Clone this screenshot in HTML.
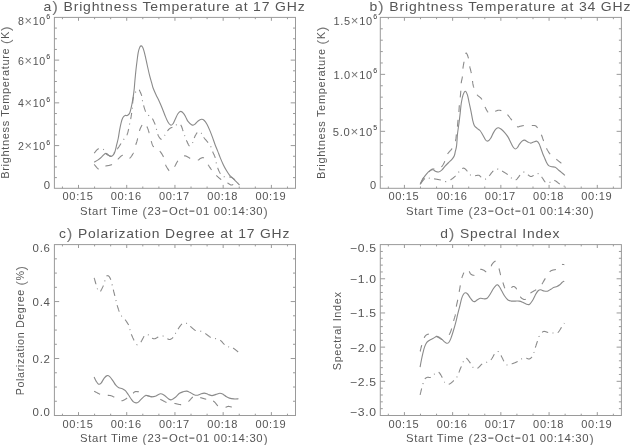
<!DOCTYPE html>
<html><head><meta charset="utf-8"><style>
html,body{margin:0;padding:0;background:#fff;}
svg{display:block;}
text{font-family:'Liberation Sans', sans-serif;fill:#555;letter-spacing:0.06em;}
tspan.x{fill:#7a7a7a;font-size:1.2em;}
text.sup{fill:#333;}
tspan.h{font-size:1.8em;baseline-shift:-0.11em;fill:#888;}
tspan.p{font-size:1.22em;baseline-shift:-0.06em;fill:#777;}
</style></head><body>
<svg width="630" height="445" viewBox="0 0 630 445">
<g stroke="#9a9a9a" stroke-width="1.0" fill="none">
<rect x="54.4" y="17.4" width="241.10" height="170.90" fill="none"/>
<line x1="62.44" y1="188.30" x2="62.44" y2="186.50"/>
<line x1="62.44" y1="17.40" x2="62.44" y2="19.20"/>
<line x1="78.51" y1="188.30" x2="78.51" y2="184.90"/>
<line x1="78.51" y1="17.40" x2="78.51" y2="20.80"/>
<line x1="94.58" y1="188.30" x2="94.58" y2="186.50"/>
<line x1="94.58" y1="17.40" x2="94.58" y2="19.20"/>
<line x1="110.66" y1="188.30" x2="110.66" y2="186.50"/>
<line x1="110.66" y1="17.40" x2="110.66" y2="19.20"/>
<line x1="126.73" y1="188.30" x2="126.73" y2="184.90"/>
<line x1="126.73" y1="17.40" x2="126.73" y2="20.80"/>
<line x1="142.80" y1="188.30" x2="142.80" y2="186.50"/>
<line x1="142.80" y1="17.40" x2="142.80" y2="19.20"/>
<line x1="158.88" y1="188.30" x2="158.88" y2="186.50"/>
<line x1="158.88" y1="17.40" x2="158.88" y2="19.20"/>
<line x1="174.95" y1="188.30" x2="174.95" y2="184.90"/>
<line x1="174.95" y1="17.40" x2="174.95" y2="20.80"/>
<line x1="191.02" y1="188.30" x2="191.02" y2="186.50"/>
<line x1="191.02" y1="17.40" x2="191.02" y2="19.20"/>
<line x1="207.10" y1="188.30" x2="207.10" y2="186.50"/>
<line x1="207.10" y1="17.40" x2="207.10" y2="19.20"/>
<line x1="223.17" y1="188.30" x2="223.17" y2="184.90"/>
<line x1="223.17" y1="17.40" x2="223.17" y2="20.80"/>
<line x1="239.24" y1="188.30" x2="239.24" y2="186.50"/>
<line x1="239.24" y1="17.40" x2="239.24" y2="19.20"/>
<line x1="255.32" y1="188.30" x2="255.32" y2="186.50"/>
<line x1="255.32" y1="17.40" x2="255.32" y2="19.20"/>
<line x1="271.39" y1="188.30" x2="271.39" y2="184.90"/>
<line x1="271.39" y1="17.40" x2="271.39" y2="20.80"/>
<line x1="287.46" y1="188.30" x2="287.46" y2="186.50"/>
<line x1="287.46" y1="17.40" x2="287.46" y2="19.20"/>
<line x1="54.40" y1="177.62" x2="56.90" y2="177.62"/>
<line x1="295.50" y1="177.62" x2="293.00" y2="177.62"/>
<line x1="54.40" y1="166.94" x2="56.90" y2="166.94"/>
<line x1="295.50" y1="166.94" x2="293.00" y2="166.94"/>
<line x1="54.40" y1="156.26" x2="56.90" y2="156.26"/>
<line x1="295.50" y1="156.26" x2="293.00" y2="156.26"/>
<line x1="54.40" y1="145.58" x2="59.20" y2="145.58"/>
<line x1="295.50" y1="145.58" x2="290.70" y2="145.58"/>
<line x1="54.40" y1="134.89" x2="56.90" y2="134.89"/>
<line x1="295.50" y1="134.89" x2="293.00" y2="134.89"/>
<line x1="54.40" y1="124.21" x2="56.90" y2="124.21"/>
<line x1="295.50" y1="124.21" x2="293.00" y2="124.21"/>
<line x1="54.40" y1="113.53" x2="56.90" y2="113.53"/>
<line x1="295.50" y1="113.53" x2="293.00" y2="113.53"/>
<line x1="54.40" y1="102.85" x2="59.20" y2="102.85"/>
<line x1="295.50" y1="102.85" x2="290.70" y2="102.85"/>
<line x1="54.40" y1="92.17" x2="56.90" y2="92.17"/>
<line x1="295.50" y1="92.17" x2="293.00" y2="92.17"/>
<line x1="54.40" y1="81.49" x2="56.90" y2="81.49"/>
<line x1="295.50" y1="81.49" x2="293.00" y2="81.49"/>
<line x1="54.40" y1="70.81" x2="56.90" y2="70.81"/>
<line x1="295.50" y1="70.81" x2="293.00" y2="70.81"/>
<line x1="54.40" y1="60.12" x2="59.20" y2="60.12"/>
<line x1="295.50" y1="60.12" x2="290.70" y2="60.12"/>
<line x1="54.40" y1="49.44" x2="56.90" y2="49.44"/>
<line x1="295.50" y1="49.44" x2="293.00" y2="49.44"/>
<line x1="54.40" y1="38.76" x2="56.90" y2="38.76"/>
<line x1="295.50" y1="38.76" x2="293.00" y2="38.76"/>
<line x1="54.40" y1="28.08" x2="56.90" y2="28.08"/>
<line x1="295.50" y1="28.08" x2="293.00" y2="28.08"/>
<rect x="380.3" y="17.4" width="241.10" height="170.90" fill="none"/>
<line x1="388.34" y1="188.30" x2="388.34" y2="186.50"/>
<line x1="388.34" y1="17.40" x2="388.34" y2="19.20"/>
<line x1="404.41" y1="188.30" x2="404.41" y2="184.90"/>
<line x1="404.41" y1="17.40" x2="404.41" y2="20.80"/>
<line x1="420.48" y1="188.30" x2="420.48" y2="186.50"/>
<line x1="420.48" y1="17.40" x2="420.48" y2="19.20"/>
<line x1="436.56" y1="188.30" x2="436.56" y2="186.50"/>
<line x1="436.56" y1="17.40" x2="436.56" y2="19.20"/>
<line x1="452.63" y1="188.30" x2="452.63" y2="184.90"/>
<line x1="452.63" y1="17.40" x2="452.63" y2="20.80"/>
<line x1="468.70" y1="188.30" x2="468.70" y2="186.50"/>
<line x1="468.70" y1="17.40" x2="468.70" y2="19.20"/>
<line x1="484.78" y1="188.30" x2="484.78" y2="186.50"/>
<line x1="484.78" y1="17.40" x2="484.78" y2="19.20"/>
<line x1="500.85" y1="188.30" x2="500.85" y2="184.90"/>
<line x1="500.85" y1="17.40" x2="500.85" y2="20.80"/>
<line x1="516.92" y1="188.30" x2="516.92" y2="186.50"/>
<line x1="516.92" y1="17.40" x2="516.92" y2="19.20"/>
<line x1="533.00" y1="188.30" x2="533.00" y2="186.50"/>
<line x1="533.00" y1="17.40" x2="533.00" y2="19.20"/>
<line x1="549.07" y1="188.30" x2="549.07" y2="184.90"/>
<line x1="549.07" y1="17.40" x2="549.07" y2="20.80"/>
<line x1="565.14" y1="188.30" x2="565.14" y2="186.50"/>
<line x1="565.14" y1="17.40" x2="565.14" y2="19.20"/>
<line x1="581.22" y1="188.30" x2="581.22" y2="186.50"/>
<line x1="581.22" y1="17.40" x2="581.22" y2="19.20"/>
<line x1="597.29" y1="188.30" x2="597.29" y2="184.90"/>
<line x1="597.29" y1="17.40" x2="597.29" y2="20.80"/>
<line x1="613.36" y1="188.30" x2="613.36" y2="186.50"/>
<line x1="613.36" y1="17.40" x2="613.36" y2="19.20"/>
<line x1="380.30" y1="176.91" x2="382.80" y2="176.91"/>
<line x1="621.40" y1="176.91" x2="618.90" y2="176.91"/>
<line x1="380.30" y1="165.51" x2="382.80" y2="165.51"/>
<line x1="621.40" y1="165.51" x2="618.90" y2="165.51"/>
<line x1="380.30" y1="154.12" x2="382.80" y2="154.12"/>
<line x1="621.40" y1="154.12" x2="618.90" y2="154.12"/>
<line x1="380.30" y1="142.73" x2="382.80" y2="142.73"/>
<line x1="621.40" y1="142.73" x2="618.90" y2="142.73"/>
<line x1="380.30" y1="131.33" x2="385.10" y2="131.33"/>
<line x1="621.40" y1="131.33" x2="616.60" y2="131.33"/>
<line x1="380.30" y1="119.94" x2="382.80" y2="119.94"/>
<line x1="621.40" y1="119.94" x2="618.90" y2="119.94"/>
<line x1="380.30" y1="108.55" x2="382.80" y2="108.55"/>
<line x1="621.40" y1="108.55" x2="618.90" y2="108.55"/>
<line x1="380.30" y1="97.15" x2="382.80" y2="97.15"/>
<line x1="621.40" y1="97.15" x2="618.90" y2="97.15"/>
<line x1="380.30" y1="85.76" x2="382.80" y2="85.76"/>
<line x1="621.40" y1="85.76" x2="618.90" y2="85.76"/>
<line x1="380.30" y1="74.37" x2="385.10" y2="74.37"/>
<line x1="621.40" y1="74.37" x2="616.60" y2="74.37"/>
<line x1="380.30" y1="62.97" x2="382.80" y2="62.97"/>
<line x1="621.40" y1="62.97" x2="618.90" y2="62.97"/>
<line x1="380.30" y1="51.58" x2="382.80" y2="51.58"/>
<line x1="621.40" y1="51.58" x2="618.90" y2="51.58"/>
<line x1="380.30" y1="40.19" x2="382.80" y2="40.19"/>
<line x1="621.40" y1="40.19" x2="618.90" y2="40.19"/>
<line x1="380.30" y1="28.79" x2="382.80" y2="28.79"/>
<line x1="621.40" y1="28.79" x2="618.90" y2="28.79"/>
<rect x="54.4" y="244.6" width="241.10" height="170.90" fill="none"/>
<line x1="62.44" y1="415.50" x2="62.44" y2="413.70"/>
<line x1="62.44" y1="244.60" x2="62.44" y2="246.40"/>
<line x1="78.51" y1="415.50" x2="78.51" y2="412.10"/>
<line x1="78.51" y1="244.60" x2="78.51" y2="248.00"/>
<line x1="94.58" y1="415.50" x2="94.58" y2="413.70"/>
<line x1="94.58" y1="244.60" x2="94.58" y2="246.40"/>
<line x1="110.66" y1="415.50" x2="110.66" y2="413.70"/>
<line x1="110.66" y1="244.60" x2="110.66" y2="246.40"/>
<line x1="126.73" y1="415.50" x2="126.73" y2="412.10"/>
<line x1="126.73" y1="244.60" x2="126.73" y2="248.00"/>
<line x1="142.80" y1="415.50" x2="142.80" y2="413.70"/>
<line x1="142.80" y1="244.60" x2="142.80" y2="246.40"/>
<line x1="158.88" y1="415.50" x2="158.88" y2="413.70"/>
<line x1="158.88" y1="244.60" x2="158.88" y2="246.40"/>
<line x1="174.95" y1="415.50" x2="174.95" y2="412.10"/>
<line x1="174.95" y1="244.60" x2="174.95" y2="248.00"/>
<line x1="191.02" y1="415.50" x2="191.02" y2="413.70"/>
<line x1="191.02" y1="244.60" x2="191.02" y2="246.40"/>
<line x1="207.10" y1="415.50" x2="207.10" y2="413.70"/>
<line x1="207.10" y1="244.60" x2="207.10" y2="246.40"/>
<line x1="223.17" y1="415.50" x2="223.17" y2="412.10"/>
<line x1="223.17" y1="244.60" x2="223.17" y2="248.00"/>
<line x1="239.24" y1="415.50" x2="239.24" y2="413.70"/>
<line x1="239.24" y1="244.60" x2="239.24" y2="246.40"/>
<line x1="255.32" y1="415.50" x2="255.32" y2="413.70"/>
<line x1="255.32" y1="244.60" x2="255.32" y2="246.40"/>
<line x1="271.39" y1="415.50" x2="271.39" y2="412.10"/>
<line x1="271.39" y1="244.60" x2="271.39" y2="248.00"/>
<line x1="287.46" y1="415.50" x2="287.46" y2="413.70"/>
<line x1="287.46" y1="244.60" x2="287.46" y2="246.40"/>
<line x1="54.40" y1="401.26" x2="56.90" y2="401.26"/>
<line x1="295.50" y1="401.26" x2="293.00" y2="401.26"/>
<line x1="54.40" y1="387.02" x2="56.90" y2="387.02"/>
<line x1="295.50" y1="387.02" x2="293.00" y2="387.02"/>
<line x1="54.40" y1="372.77" x2="56.90" y2="372.77"/>
<line x1="295.50" y1="372.77" x2="293.00" y2="372.77"/>
<line x1="54.40" y1="358.53" x2="59.20" y2="358.53"/>
<line x1="295.50" y1="358.53" x2="290.70" y2="358.53"/>
<line x1="54.40" y1="344.29" x2="56.90" y2="344.29"/>
<line x1="295.50" y1="344.29" x2="293.00" y2="344.29"/>
<line x1="54.40" y1="330.05" x2="56.90" y2="330.05"/>
<line x1="295.50" y1="330.05" x2="293.00" y2="330.05"/>
<line x1="54.40" y1="315.81" x2="56.90" y2="315.81"/>
<line x1="295.50" y1="315.81" x2="293.00" y2="315.81"/>
<line x1="54.40" y1="301.57" x2="59.20" y2="301.57"/>
<line x1="295.50" y1="301.57" x2="290.70" y2="301.57"/>
<line x1="54.40" y1="287.32" x2="56.90" y2="287.32"/>
<line x1="295.50" y1="287.32" x2="293.00" y2="287.32"/>
<line x1="54.40" y1="273.08" x2="56.90" y2="273.08"/>
<line x1="295.50" y1="273.08" x2="293.00" y2="273.08"/>
<line x1="54.40" y1="258.84" x2="56.90" y2="258.84"/>
<line x1="295.50" y1="258.84" x2="293.00" y2="258.84"/>
<rect x="380.3" y="244.6" width="241.10" height="170.90" fill="none"/>
<line x1="388.34" y1="415.50" x2="388.34" y2="413.70"/>
<line x1="388.34" y1="244.60" x2="388.34" y2="246.40"/>
<line x1="404.41" y1="415.50" x2="404.41" y2="412.10"/>
<line x1="404.41" y1="244.60" x2="404.41" y2="248.00"/>
<line x1="420.48" y1="415.50" x2="420.48" y2="413.70"/>
<line x1="420.48" y1="244.60" x2="420.48" y2="246.40"/>
<line x1="436.56" y1="415.50" x2="436.56" y2="413.70"/>
<line x1="436.56" y1="244.60" x2="436.56" y2="246.40"/>
<line x1="452.63" y1="415.50" x2="452.63" y2="412.10"/>
<line x1="452.63" y1="244.60" x2="452.63" y2="248.00"/>
<line x1="468.70" y1="415.50" x2="468.70" y2="413.70"/>
<line x1="468.70" y1="244.60" x2="468.70" y2="246.40"/>
<line x1="484.78" y1="415.50" x2="484.78" y2="413.70"/>
<line x1="484.78" y1="244.60" x2="484.78" y2="246.40"/>
<line x1="500.85" y1="415.50" x2="500.85" y2="412.10"/>
<line x1="500.85" y1="244.60" x2="500.85" y2="248.00"/>
<line x1="516.92" y1="415.50" x2="516.92" y2="413.70"/>
<line x1="516.92" y1="244.60" x2="516.92" y2="246.40"/>
<line x1="533.00" y1="415.50" x2="533.00" y2="413.70"/>
<line x1="533.00" y1="244.60" x2="533.00" y2="246.40"/>
<line x1="549.07" y1="415.50" x2="549.07" y2="412.10"/>
<line x1="549.07" y1="244.60" x2="549.07" y2="248.00"/>
<line x1="565.14" y1="415.50" x2="565.14" y2="413.70"/>
<line x1="565.14" y1="244.60" x2="565.14" y2="246.40"/>
<line x1="581.22" y1="415.50" x2="581.22" y2="413.70"/>
<line x1="581.22" y1="244.60" x2="581.22" y2="246.40"/>
<line x1="597.29" y1="415.50" x2="597.29" y2="412.10"/>
<line x1="597.29" y1="244.60" x2="597.29" y2="248.00"/>
<line x1="613.36" y1="415.50" x2="613.36" y2="413.70"/>
<line x1="613.36" y1="244.60" x2="613.36" y2="246.40"/>
<line x1="380.30" y1="408.66" x2="382.80" y2="408.66"/>
<line x1="621.40" y1="408.66" x2="618.90" y2="408.66"/>
<line x1="380.30" y1="401.83" x2="382.80" y2="401.83"/>
<line x1="621.40" y1="401.83" x2="618.90" y2="401.83"/>
<line x1="380.30" y1="394.99" x2="382.80" y2="394.99"/>
<line x1="621.40" y1="394.99" x2="618.90" y2="394.99"/>
<line x1="380.30" y1="388.16" x2="382.80" y2="388.16"/>
<line x1="621.40" y1="388.16" x2="618.90" y2="388.16"/>
<line x1="380.30" y1="381.32" x2="385.10" y2="381.32"/>
<line x1="621.40" y1="381.32" x2="616.60" y2="381.32"/>
<line x1="380.30" y1="374.48" x2="382.80" y2="374.48"/>
<line x1="621.40" y1="374.48" x2="618.90" y2="374.48"/>
<line x1="380.30" y1="367.65" x2="382.80" y2="367.65"/>
<line x1="621.40" y1="367.65" x2="618.90" y2="367.65"/>
<line x1="380.30" y1="360.81" x2="382.80" y2="360.81"/>
<line x1="621.40" y1="360.81" x2="618.90" y2="360.81"/>
<line x1="380.30" y1="353.98" x2="382.80" y2="353.98"/>
<line x1="621.40" y1="353.98" x2="618.90" y2="353.98"/>
<line x1="380.30" y1="347.14" x2="385.10" y2="347.14"/>
<line x1="621.40" y1="347.14" x2="616.60" y2="347.14"/>
<line x1="380.30" y1="340.30" x2="382.80" y2="340.30"/>
<line x1="621.40" y1="340.30" x2="618.90" y2="340.30"/>
<line x1="380.30" y1="333.47" x2="382.80" y2="333.47"/>
<line x1="621.40" y1="333.47" x2="618.90" y2="333.47"/>
<line x1="380.30" y1="326.63" x2="382.80" y2="326.63"/>
<line x1="621.40" y1="326.63" x2="618.90" y2="326.63"/>
<line x1="380.30" y1="319.80" x2="382.80" y2="319.80"/>
<line x1="621.40" y1="319.80" x2="618.90" y2="319.80"/>
<line x1="380.30" y1="312.96" x2="385.10" y2="312.96"/>
<line x1="621.40" y1="312.96" x2="616.60" y2="312.96"/>
<line x1="380.30" y1="306.12" x2="382.80" y2="306.12"/>
<line x1="621.40" y1="306.12" x2="618.90" y2="306.12"/>
<line x1="380.30" y1="299.29" x2="382.80" y2="299.29"/>
<line x1="621.40" y1="299.29" x2="618.90" y2="299.29"/>
<line x1="380.30" y1="292.45" x2="382.80" y2="292.45"/>
<line x1="621.40" y1="292.45" x2="618.90" y2="292.45"/>
<line x1="380.30" y1="285.62" x2="382.80" y2="285.62"/>
<line x1="621.40" y1="285.62" x2="618.90" y2="285.62"/>
<line x1="380.30" y1="278.78" x2="385.10" y2="278.78"/>
<line x1="621.40" y1="278.78" x2="616.60" y2="278.78"/>
<line x1="380.30" y1="271.94" x2="382.80" y2="271.94"/>
<line x1="621.40" y1="271.94" x2="618.90" y2="271.94"/>
<line x1="380.30" y1="265.11" x2="382.80" y2="265.11"/>
<line x1="621.40" y1="265.11" x2="618.90" y2="265.11"/>
<line x1="380.30" y1="258.27" x2="382.80" y2="258.27"/>
<line x1="621.40" y1="258.27" x2="618.90" y2="258.27"/>
<line x1="380.30" y1="251.44" x2="382.80" y2="251.44"/>
<line x1="621.40" y1="251.44" x2="618.90" y2="251.44"/>
</g>
<g stroke="#8a8a8a" stroke-width="1.1" fill="none" stroke-linejoin="round">
<path d="M94.20,162.20 C94.85,161.82 96.88,160.75 98.10,159.90 C99.32,159.05 100.37,158.13 101.50,157.10 C102.63,156.07 104.07,154.30 104.90,153.70 C105.73,153.10 105.85,153.22 106.50,153.50 C107.15,153.78 108.05,154.90 108.80,155.40 C109.55,155.90 110.25,156.58 111.00,156.50 C111.75,156.42 112.63,155.73 113.30,154.90 C113.97,154.07 114.43,153.20 115.00,151.50 C115.57,149.80 116.15,146.95 116.70,144.70 C117.25,142.45 117.83,140.33 118.30,138.00 C118.77,135.67 119.03,133.23 119.50,130.70 C119.97,128.17 120.55,124.95 121.10,122.80 C121.65,120.65 122.13,119.02 122.80,117.80 C123.47,116.58 124.35,115.88 125.10,115.50 C125.85,115.12 126.55,115.87 127.30,115.50 C128.05,115.13 128.93,114.70 129.60,113.30 C130.27,111.90 130.83,109.07 131.30,107.10 C131.77,105.13 132.03,103.57 132.40,101.50 C132.77,99.43 133.18,96.95 133.50,94.70 C133.82,92.45 134.07,90.33 134.30,88.00 C134.53,85.67 134.62,83.78 134.90,80.70 C135.18,77.62 135.63,72.87 136.00,69.50 C136.37,66.13 136.73,63.32 137.10,60.50 C137.47,57.68 137.78,54.75 138.20,52.60 C138.62,50.45 139.13,48.72 139.60,47.60 C140.07,46.48 140.52,46.00 141.00,45.90 C141.48,45.80 142.03,46.25 142.50,47.00 C142.97,47.75 143.30,48.72 143.80,50.40 C144.30,52.08 144.93,54.67 145.50,57.10 C146.07,59.53 146.53,62.00 147.20,65.00 C147.87,68.00 148.75,72.12 149.50,75.10 C150.25,78.08 151.10,80.75 151.70,82.90 C152.30,85.05 152.38,86.03 153.10,88.00 C153.82,89.97 154.97,92.45 156.00,94.70 C157.03,96.95 158.27,99.25 159.30,101.50 C160.33,103.75 161.25,105.87 162.20,108.20 C163.15,110.53 164.07,113.25 165.00,115.50 C165.93,117.75 166.87,120.10 167.80,121.70 C168.73,123.30 169.77,124.72 170.60,125.10 C171.43,125.48 172.05,124.93 172.80,124.00 C173.55,123.07 174.25,121.20 175.10,119.50 C175.95,117.80 176.97,115.15 177.90,113.80 C178.83,112.45 179.77,111.48 180.70,111.40 C181.63,111.32 182.65,112.33 183.50,113.30 C184.35,114.27 185.05,115.85 185.80,117.20 C186.55,118.55 186.98,120.10 188.00,121.40 C189.02,122.70 190.78,124.50 191.90,125.00 C193.02,125.50 193.67,125.07 194.70,124.40 C195.73,123.73 196.97,121.85 198.10,121.00 C199.23,120.15 200.47,119.38 201.50,119.30 C202.53,119.22 203.37,119.65 204.30,120.50 C205.23,121.35 206.17,122.72 207.10,124.40 C208.03,126.08 208.97,128.35 209.90,130.60 C210.83,132.85 211.82,135.50 212.70,137.90 C213.58,140.30 214.37,142.80 215.20,145.00 C216.03,147.20 216.87,149.00 217.70,151.10 C218.53,153.20 219.27,155.33 220.20,157.60 C221.13,159.87 222.28,162.58 223.30,164.70 C224.32,166.82 225.30,168.62 226.30,170.30 C227.30,171.98 228.28,173.53 229.30,174.80 C230.32,176.07 231.38,176.88 232.40,177.90 C233.42,178.92 234.40,179.90 235.40,180.90 C236.40,181.90 237.72,183.22 238.40,183.90 C239.08,184.58 239.32,184.82 239.50,185.00"/>
<path d="M94.20,153.20 L94.26,153.12 L94.34,153.03 L94.42,152.92 L94.51,152.80 L94.61,152.67 L94.72,152.54 L94.83,152.39 L94.95,152.23 L95.07,152.07 L95.20,151.91 L95.33,151.74 L95.46,151.57 L95.60,151.40 L95.73,151.23 L95.87,151.06 L96.01,150.89 L96.14,150.73 L96.28,150.57 L96.41,150.42 L96.54,150.27 L96.66,150.14 L96.78,150.01 L96.89,149.90 L97.00,149.80 L97.10,149.71 L97.20,149.62 L97.29,149.54 L97.38,149.47 L97.47,149.39 L97.55,149.33 L97.63,149.26 L97.71,149.20 L97.79,149.15 L97.87,149.10 L97.95,149.05 L98.03,149.01 L98.10,148.97 L98.19,148.93 L98.27,148.89 L98.36,148.86 L98.44,148.83 L98.54,148.81 L98.63,148.79 L98.74,148.76 L98.84,148.75 L98.87,148.74 M103.15,149.17 L103.20,149.20 L103.34,149.31 L103.47,149.44 L103.61,149.59 L103.73,149.75 L103.83,149.89 M106.00,153.70 L106.12,153.83 L106.24,153.95 L106.36,154.06 L106.49,154.17 L106.61,154.27 L106.73,154.37 L106.85,154.46 L106.98,154.55 L107.10,154.63 L107.23,154.71 L107.35,154.78 L107.47,154.85 L107.60,154.92 L107.73,154.98 L107.85,155.04 L107.98,155.10 L108.10,155.15 L108.23,155.20 L108.36,155.26 L108.49,155.31 L108.61,155.36 L108.74,155.40 L108.87,155.45 L109.00,155.50 L109.13,155.55 L109.26,155.60 L109.40,155.65 L109.53,155.70 L109.67,155.76 L109.81,155.81 L109.95,155.86 L110.09,155.91 L110.23,155.95 L110.37,156.00 L110.51,156.04 L110.65,156.07 L110.79,156.11 L110.93,156.13 L111.06,156.16 L111.20,156.17 L111.33,156.18 L111.47,156.18 L111.54,156.18 M114.05,153.15 L114.10,153.05 L114.20,152.90 L114.30,152.74 L114.40,152.60 L114.50,152.46 L114.57,152.37 M117.20,149.20 L117.36,148.98 L117.52,148.75 L117.70,148.50 L117.88,148.24 L118.06,147.96 L118.26,147.68 L118.45,147.39 L118.66,147.09 L118.86,146.78 L119.07,146.48 L119.27,146.16 L119.48,145.85 L119.69,145.54 L119.89,145.22 L120.10,144.92 L120.30,144.61 L120.50,144.31 L120.69,144.02 L120.88,143.74 L121.02,143.53 M123.55,139.74 L123.61,139.66 L123.70,139.53 L123.80,139.39 L123.90,139.25 L124.00,139.10 L124.11,138.95 L124.15,138.89 M126.80,135.20 L126.89,135.01 L126.98,134.82 L127.06,134.63 L127.14,134.43 L127.22,134.23 L127.29,134.03 L127.37,133.83 L127.44,133.63 L127.51,133.42 L127.57,133.21 L127.64,133.00 L127.70,132.79 L127.76,132.57 L127.82,132.36 L127.88,132.14 L127.94,131.92 L128.00,131.70 L128.06,131.47 L128.11,131.25 L128.17,131.02 L128.23,130.79 L128.28,130.56 L128.34,130.33 L128.40,130.10 L128.46,129.86 L128.51,129.62 L128.57,129.38 L128.62,129.13 L128.68,128.88 L128.69,128.83 M129.51,124.47 L129.55,124.24 L129.60,124.00 L129.65,123.77 L129.70,123.55 L129.71,123.48 M130.65,119.14 L130.70,118.90 L130.75,118.65 L130.79,118.39 L130.84,118.12 L130.89,117.85 L130.94,117.57 L130.99,117.29 L131.04,117.00 L131.09,116.70 L131.13,116.41 L131.18,116.11 L131.23,115.81 L131.28,115.51 L131.33,115.21 L131.38,114.92 L131.42,114.62 L131.47,114.33 L131.52,114.04 L131.56,113.76 L131.60,113.48 L131.65,113.21 L131.69,112.94 L131.70,112.86 M132.30,108.66 L132.31,108.59 L132.33,108.38 L132.36,108.17 L132.38,107.94 L132.40,107.71 M132.65,103.47 L132.67,103.14 L132.69,102.82 L132.71,102.50 L132.73,102.18 L132.75,101.86 L132.78,101.56 L132.80,101.26 L132.83,100.96 L132.87,100.68 L132.90,100.40 L132.94,100.13 L132.97,99.86 L133.01,99.60 L133.05,99.33 L133.09,99.07 L133.13,98.81 L133.17,98.55 L133.21,98.30 L133.25,98.05 L133.30,97.80 L133.35,97.55 L133.39,97.31 L133.44,97.07 L133.49,96.84 L133.53,96.67 M135.30,92.48 L135.33,92.44 L135.43,92.31 L135.53,92.17 L135.63,92.04 L135.73,91.92 L135.82,91.79 L135.92,91.67 L135.93,91.66 M139.22,89.68 L139.27,89.77 L139.31,89.87 L139.36,89.98 L139.41,90.09 L139.47,90.22 L139.53,90.36 L139.60,90.50 L139.67,90.66 L139.76,90.84 L139.84,91.03 L139.93,91.23 L140.03,91.45 L140.13,91.68 L140.23,91.93 L140.34,92.18 L140.45,92.44 L140.56,92.70 L140.67,92.97 L140.78,93.25 L140.89,93.53 L141.00,93.81 L141.11,94.09 L141.21,94.37 L141.32,94.64 L141.42,94.92 L141.51,95.18 L141.60,95.44 L141.69,95.70 L141.72,95.80 M142.39,100.14 L142.39,100.17 L142.41,100.35 L142.44,100.53 L142.47,100.71 L142.50,100.90 L142.54,101.09 L142.54,101.13 M143.60,105.40 L143.67,105.64 L143.75,105.90 L143.83,106.16 L143.91,106.44 L143.99,106.73 L144.08,107.02 L144.17,107.32 L144.26,107.63 L144.35,107.94 L144.45,108.25 L144.55,108.56 L144.64,108.88 L144.74,109.19 L144.85,109.50 L144.95,109.81 L145.05,110.11 L145.16,110.40 L145.26,110.69 L145.37,110.97 L145.47,111.24 L145.58,111.50 L145.65,111.66 M148.29,115.11 L148.31,115.13 L148.44,115.25 L148.57,115.37 L148.70,115.50 L148.83,115.63 L148.97,115.74 L149.02,115.79 M152.34,118.60 L152.48,118.82 L152.62,119.05 L152.76,119.30 L152.90,119.55 L153.05,119.82 L153.19,120.09 L153.33,120.37 L153.48,120.66 L153.62,120.95 L153.76,121.25 L153.89,121.55 L154.03,121.85 L154.16,122.15 L154.29,122.45 L154.42,122.75 L154.55,123.04 L154.67,123.33 L154.79,123.61 L154.90,123.89 L155.01,124.16 L155.11,124.42 L155.19,124.63 M156.38,128.91 L156.41,129.02 L156.45,129.21 L156.50,129.40 L156.55,129.60 L156.60,129.79 L156.62,129.89 M157.70,134.20 L157.77,134.38 L157.84,134.55 L157.91,134.73 L157.99,134.91 L158.06,135.09 L158.14,135.26 L158.22,135.43 L158.31,135.61 L158.39,135.78 L158.48,135.95 L158.56,136.11 L158.65,136.28 L158.74,136.43 L158.83,136.59 L158.91,136.74 L159.00,136.89 L159.09,137.04 L159.18,137.18 L159.27,137.31 L159.36,137.44 L159.44,137.56 L159.53,137.68 L159.62,137.79 L159.70,137.90 L159.78,138.00 L159.86,138.10 L159.94,138.20 L160.02,138.30 L160.10,138.40 L160.18,138.49 L160.26,138.58 L160.33,138.66 L160.41,138.74 L160.49,138.82 L160.57,138.89 L160.64,138.96 L160.72,139.01 L160.80,139.07 L160.88,139.11 L160.97,139.15 L161.05,139.18 L161.14,139.20 L161.22,139.21 L161.31,139.21 L161.41,139.20 L161.50,139.18 L161.60,139.14 L161.66,139.12 M164.48,135.67 L164.60,135.50 L164.72,135.33 L164.84,135.15 L164.95,134.97 L165.05,134.82 M167.40,131.00 L167.52,130.85 L167.63,130.70 L167.75,130.56 L167.87,130.42 L167.98,130.28 L168.10,130.14 L168.21,130.01 L168.33,129.88 L168.45,129.76 L168.56,129.63 L168.68,129.51 L168.79,129.39 L168.91,129.28 L169.03,129.17 L169.14,129.06 L169.26,128.95 L169.38,128.85 L169.49,128.75 L169.61,128.65 L169.73,128.55 L169.85,128.46 L169.96,128.37 L170.08,128.28 L170.20,128.20 L170.32,128.12 L170.43,128.05 L170.55,127.98 L170.66,127.92 L170.78,127.87 L170.89,127.82 L171.01,127.77 L171.12,127.73 L171.23,127.69 L171.35,127.65 L171.46,127.62 L171.57,127.58 L171.69,127.55 L171.81,127.51 L171.93,127.47 L172.05,127.44 L172.17,127.40 L172.30,127.35 L172.37,127.33 M175.92,125.06 L175.93,125.06 L176.10,124.95 L176.27,124.85 L176.44,124.76 L176.61,124.68 L176.77,124.62 M180.70,124.90 L180.83,125.06 L180.95,125.23 L181.07,125.43 L181.19,125.65 L181.31,125.89 L181.42,126.14 L181.54,126.41 L181.65,126.69 L181.76,126.98 L181.87,127.28 L181.97,127.58 L182.07,127.89 L182.18,128.21 L182.28,128.52 L182.38,128.84 L182.47,129.16 L182.57,129.47 L182.66,129.77 L182.76,130.07 L182.85,130.36 L182.94,130.64 L183.03,130.91 L183.07,131.05 M184.55,135.21 L184.61,135.36 L184.67,135.53 L184.73,135.72 L184.80,135.90 L184.87,136.08 L184.89,136.15 M186.40,140.30 L186.49,140.50 L186.58,140.70 L186.67,140.92 L186.77,141.14 L186.86,141.36 L186.97,141.59 L187.07,141.82 L187.18,142.06 L187.29,142.29 L187.39,142.52 L187.50,142.76 L187.61,142.99 L187.72,143.21 L187.83,143.44 L187.94,143.66 L188.04,143.87 L188.15,144.07 L188.25,144.27 L188.35,144.45 L188.45,144.63 L188.54,144.79 L188.63,144.94 L188.72,145.08 L188.80,145.20 L188.88,145.31 L188.95,145.41 L189.02,145.50 L189.08,145.59 L189.14,145.66 L189.20,145.73 L189.25,145.79 L189.31,145.84 L189.36,145.89 L189.41,145.93 L189.46,145.96 L189.51,145.98 L189.54,145.99 M192.51,142.99 L192.58,142.83 L192.66,142.66 L192.73,142.48 L192.80,142.29 L192.86,142.10 L192.87,142.07 M194.20,137.90 L194.31,137.67 L194.42,137.43 L194.54,137.18 L194.66,136.92 L194.79,136.65 L194.92,136.38 L195.06,136.11 L195.20,135.83 L195.34,135.55 L195.48,135.27 L195.63,135.00 L195.77,134.72 L195.92,134.46 L196.08,134.20 L196.23,133.95 L196.38,133.70 L196.54,133.47 L196.69,133.25 L196.84,133.05 L197.00,132.86 L197.15,132.69 L197.30,132.54 L197.30,132.54 M201.06,133.01 L201.17,133.10 L201.30,133.20 L201.42,133.31 L201.54,133.42 L201.64,133.55 L201.73,133.66 M203.70,137.30 L203.86,137.52 L204.04,137.75 L204.23,137.99 L204.43,138.24 L204.64,138.50 L204.85,138.77 L205.08,139.04 L205.31,139.31 L205.54,139.59 L205.78,139.88 L206.02,140.16 L206.26,140.44 L206.50,140.73 L206.74,141.01 L206.98,141.29 L207.21,141.56 L207.44,141.83 L207.67,142.10 L207.88,142.36 L208.07,142.59 M210.72,146.32 L210.77,146.43 L210.85,146.58 L210.92,146.74 L211.00,146.90 L211.08,147.07 L211.15,147.24 L211.16,147.26 M212.60,151.60 L212.69,151.83 L212.79,152.06 L212.89,152.29 L212.99,152.54 L213.10,152.78 L213.22,153.03 L213.33,153.28 L213.45,153.54 L213.57,153.79 L213.69,154.05 L213.82,154.31 L213.94,154.57 L214.06,154.84 L214.18,155.10 L214.30,155.36 L214.41,155.62 L214.53,155.88 L214.64,156.13 L214.75,156.39 L214.85,156.64 L214.94,156.88 L215.04,157.13 L215.12,157.37 L215.20,157.60 L215.27,157.83 L215.30,157.91 M216.13,162.41 L216.15,162.49 L216.20,162.70 L216.25,162.91 L216.30,163.12 L216.36,163.33 L216.38,163.42 M217.70,167.80 L217.78,168.02 L217.87,168.25 L217.96,168.48 L218.05,168.72 L218.14,168.96 L218.24,169.20 L218.33,169.44 L218.43,169.69 L218.53,169.93 L218.63,170.18 L218.73,170.42 L218.84,170.67 L218.94,170.91 L219.05,171.15 L219.16,171.39 L219.27,171.62 L219.38,171.85 L219.50,172.08 L219.61,172.30 L219.73,172.51 L219.84,172.72 L219.96,172.92 L220.08,173.11 L220.20,173.30 L220.32,173.48 L220.45,173.66 L220.51,173.75 M223.78,176.62 L223.80,176.63 L223.95,176.67 L224.10,176.71 L224.26,176.75 L224.41,176.77 L224.57,176.79 L224.72,176.80 L224.75,176.81 M229.14,176.97 L229.17,176.97 L229.34,176.99 L229.51,177.01 L229.68,177.03 L229.85,177.05 L230.02,177.08 L230.19,177.11 L230.35,177.14 L230.52,177.17 L230.68,177.21 L230.84,177.25 L230.99,177.30 L231.15,177.35 L231.30,177.40 L231.45,177.46 L231.59,177.52 L231.74,177.58 L231.88,177.64 L232.01,177.71 L232.15,177.78 L232.28,177.85 L232.41,177.93 L232.55,178.00 L232.67,178.08 L232.80,178.16 L232.93,178.25 L233.06,178.34 L233.19,178.43 L233.31,178.52 L233.44,178.62 L233.57,178.72 L233.70,178.82 L233.83,178.93 L233.96,179.03 L234.09,179.15 L234.23,179.26 L234.36,179.38 L234.50,179.50 L234.64,179.63 L234.79,179.77 L234.90,179.87 M237.85,183.13 L237.92,183.21 L238.00,183.30 L238.00,183.30"/>
<path d="M94.20,164.40 L94.30,164.51 L94.42,164.65 L94.56,164.81 L94.70,165.00 L94.86,165.20 L95.04,165.41 L95.22,165.64 L95.41,165.89 L95.61,166.13 L95.82,166.39 L96.03,166.65 L96.24,166.91 L96.46,167.16 L96.68,167.42 L96.90,167.67 L97.12,167.90 L97.34,168.13 L97.55,168.34 L97.76,168.54 L97.97,168.72 L98.16,168.88 L98.35,169.01 L98.53,169.12 L98.67,169.19 M105.40,166.10 L105.62,166.04 L105.85,165.98 L106.10,165.93 L106.35,165.87 L106.62,165.82 L106.89,165.78 L107.17,165.73 L107.46,165.68 L107.75,165.63 L108.05,165.59 L108.36,165.53 L108.66,165.48 L108.97,165.42 L109.28,165.36 L109.59,165.30 L109.90,165.23 L110.20,165.15 L110.50,165.07 L110.80,164.98 L111.10,164.88 L111.38,164.78 L111.66,164.66 L111.94,164.54 L111.98,164.51 M117.80,159.30 L118.01,159.11 L118.22,158.92 L118.42,158.72 L118.62,158.52 L118.82,158.32 L119.02,158.12 L119.22,157.92 L119.41,157.73 L119.60,157.53 L119.79,157.34 L119.98,157.15 L120.17,156.96 L120.35,156.78 L120.54,156.61 L120.72,156.44 L120.90,156.29 L121.08,156.14 L121.26,156.00 L121.43,155.87 L121.61,155.75 L121.78,155.64 L121.96,155.55 L122.13,155.47 L122.30,155.40 L122.47,155.35 L122.64,155.31 L122.79,155.30 M129.44,158.27 L129.60,158.20 L129.76,158.11 L129.92,158.00 L130.08,157.87 L130.25,157.72 L130.42,157.55 L130.59,157.37 L130.76,157.17 L130.94,156.96 L131.11,156.74 L131.28,156.50 L131.46,156.26 L131.63,156.00 L131.80,155.74 L131.97,155.47 L132.14,155.19 L132.31,154.91 L132.47,154.62 L132.63,154.33 L132.79,154.04 L132.94,153.75 L133.09,153.46 L133.23,153.17 L133.37,152.88 L133.46,152.68 M135.72,144.96 L135.80,144.70 L135.87,144.46 L135.94,144.25 L136.00,144.05 L136.06,143.87 L136.11,143.71 L136.16,143.56 L136.21,143.43 L136.26,143.30 L136.30,143.18 L136.34,143.06 L136.38,142.95 L136.42,142.83 L136.47,142.71 L136.51,142.59 L136.55,142.46 L136.60,142.32 L136.65,142.17 L136.70,142.01 L136.75,141.83 L136.81,141.63 L136.88,141.41 L136.95,141.16 L137.02,140.90 L137.10,140.60 L137.19,140.27 L137.28,139.92 L137.37,139.53 L137.47,139.12 L137.57,138.69 L137.62,138.49 M139.45,130.93 L139.57,130.53 L139.69,130.15 L139.80,129.80 L139.91,129.47 L140.03,129.15 L140.15,128.85 L140.26,128.55 L140.38,128.27 L140.50,127.99 L140.62,127.73 L140.74,127.48 L140.87,127.23 L140.99,127.00 L141.11,126.77 L141.23,126.56 L141.34,126.35 L141.46,126.15 L141.58,125.95 L141.69,125.77 L141.80,125.59 L141.91,125.41 L142.02,125.25 L142.12,125.09 L142.13,125.08 M146.89,126.60 L147.00,126.80 L147.11,127.01 L147.21,127.22 L147.32,127.44 L147.42,127.66 L147.52,127.89 L147.61,128.13 L147.71,128.37 L147.80,128.61 L147.90,128.86 L147.99,129.12 L148.08,129.38 L148.17,129.64 L148.26,129.90 L148.35,130.17 L148.43,130.44 L148.52,130.72 L148.60,131.00 L148.69,131.28 L148.77,131.56 L148.86,131.84 L148.94,132.13 L149.03,132.42 L149.11,132.71 L149.20,133.00 L149.26,133.21 M151.19,141.09 L151.29,141.38 L151.38,141.67 L151.47,141.96 L151.55,142.25 L151.64,142.53 L151.73,142.81 L151.82,143.09 L151.91,143.37 L152.00,143.64 L152.10,143.91 L152.19,144.18 L152.30,144.45 L152.40,144.71 L152.51,144.96 L152.63,145.22 L152.75,145.47 L152.87,145.71 L153.01,145.96 L153.15,146.19 L153.30,146.43 L153.46,146.66 L153.62,146.88 L153.71,146.99 M159.80,151.20 L160.00,151.42 L160.21,151.65 L160.40,151.88 L160.60,152.11 L160.79,152.35 L160.97,152.60 L161.15,152.85 L161.33,153.10 L161.51,153.36 L161.68,153.62 L161.85,153.89 L162.01,154.16 L162.17,154.43 L162.33,154.70 L162.48,154.97 L162.63,155.25 L162.78,155.53 L162.92,155.81 L163.06,156.09 L163.20,156.37 L163.33,156.65 L163.46,156.94 L163.49,157.01 M165.50,164.70 L165.62,164.98 L165.75,165.27 L165.90,165.57 L166.05,165.87 L166.21,166.17 L166.37,166.47 L166.54,166.78 L166.71,167.08 L166.89,167.38 L167.07,167.68 L167.26,167.98 L167.44,168.27 L167.62,168.55 L167.80,168.83 L167.98,169.10 L168.15,169.36 L168.32,169.61 L168.49,169.85 L168.64,170.08 L168.79,170.30 L168.94,170.50 L169.07,170.68 L169.19,170.85 L169.20,170.87 M174.50,166.70 L174.66,166.47 L174.81,166.23 L174.96,165.98 L175.11,165.73 L175.25,165.47 L175.39,165.21 L175.53,164.94 L175.67,164.67 L175.81,164.40 L175.95,164.13 L176.09,163.86 L176.23,163.58 L176.37,163.31 L176.52,163.03 L176.66,162.76 L176.81,162.49 L176.97,162.23 L177.13,161.96 L177.29,161.70 L177.46,161.45 L177.63,161.20 L177.82,160.96 L177.94,160.81 M184.10,156.00 L184.30,155.94 L184.50,155.89 L184.69,155.87 L184.88,155.86 L185.07,155.86 L185.25,155.87 L185.42,155.90 L185.60,155.94 L185.77,155.99 L185.93,156.05 L186.10,156.11 L186.26,156.18 L186.41,156.26 L186.57,156.34 L186.72,156.42 L186.87,156.50 L187.02,156.59 L187.16,156.67 L187.31,156.76 L187.45,156.83 L187.59,156.91 L187.73,156.98 L187.86,157.04 L188.00,157.10 L188.13,157.15 L188.25,157.21 L188.36,157.26 L188.46,157.31 L188.55,157.37 L188.63,157.43 L188.71,157.48 L188.79,157.54 L188.87,157.60 L188.94,157.66 L189.02,157.72 L189.09,157.77 L189.17,157.83 L189.26,157.89 L189.35,157.95 L189.44,158.01 L189.54,158.08 L189.66,158.14 L189.78,158.20 L189.92,158.26 L190.06,158.32 L190.20,158.37 M197.80,160.00 L198.00,159.99 L198.18,159.97 L198.35,159.94 L198.50,159.90 L198.64,159.85 L198.77,159.79 L198.89,159.72 L199.00,159.65 L199.11,159.57 L199.20,159.49 L199.29,159.40 L199.38,159.31 L199.46,159.22 L199.55,159.13 L199.63,159.04 L199.71,158.95 L199.79,158.86 L199.87,158.78 L199.96,158.70 L200.06,158.63 L200.15,158.56 L200.26,158.50 L200.38,158.44 L200.50,158.40 L200.63,158.36 L200.76,158.31 L200.90,158.25 L201.03,158.19 L201.17,158.13 L201.30,158.07 L201.44,158.01 L201.59,157.95 L201.73,157.89 L201.87,157.83 L202.02,157.78 L202.16,157.74 L202.31,157.70 L202.46,157.67 L202.61,157.65 L202.76,157.64 L202.91,157.64 L203.06,157.66 L203.22,157.69 L203.37,157.74 L203.53,157.80 L203.68,157.88 L203.84,157.98 L203.90,158.02 M208.10,164.70 L208.27,164.96 L208.43,165.21 L208.60,165.46 L208.76,165.71 L208.92,165.96 L209.07,166.20 L209.23,166.44 L209.39,166.69 L209.55,166.92 L209.70,167.16 L209.86,167.40 L210.02,167.64 L210.18,167.87 L210.34,168.11 L210.50,168.35 L210.67,168.58 L210.83,168.82 L211.00,169.05 L211.18,169.29 L211.35,169.53 L211.53,169.77 L211.62,169.89 M216.36,175.36 L216.38,175.38 L216.61,175.61 L216.83,175.84 L217.06,176.07 L217.28,176.29 L217.50,176.50 L217.72,176.71 L217.93,176.91 L218.14,177.11 L218.36,177.30 L218.57,177.49 L218.78,177.68 L218.98,177.86 L219.19,178.04 L219.40,178.21 L219.61,178.38 L219.81,178.55 L220.02,178.72 L220.22,178.88 L220.43,179.04 L220.64,179.20 L220.84,179.35 L221.05,179.50 L221.05,179.51 M227.41,182.91 L227.60,183.00 L227.78,183.10 L227.96,183.20 L228.13,183.30 L228.30,183.40 L228.47,183.51 L228.63,183.62 L228.79,183.73 L228.95,183.83 L229.10,183.94 L229.26,184.05 L229.41,184.15 L229.56,184.25 L229.70,184.35 L229.85,184.44 L230.00,184.53 L230.14,184.61 L230.28,184.69 L230.43,184.76 L230.57,184.82 L230.72,184.88 L230.86,184.92 L231.01,184.96 L231.15,184.98 L231.30,185.00 L231.45,185.00 L231.60,185.00 L231.76,184.98 L231.91,184.95 L232.07,184.91 L232.23,184.86 L232.39,184.80 L232.55,184.74 L232.71,184.67 L232.87,184.60 L233.03,184.52 L233.18,184.44 L233.23,184.41"/>
<path d="M420.10,184.40 C420.57,183.47 421.88,180.48 422.90,178.80 C423.92,177.12 425.08,175.62 426.20,174.30 C427.32,172.98 428.47,171.65 429.60,170.90 C430.73,170.15 431.97,169.70 433.00,169.80 C434.03,169.90 434.87,171.13 435.80,171.50 C436.73,171.87 437.57,172.28 438.60,172.00 C439.63,171.72 440.88,170.83 442.00,169.80 C443.12,168.77 444.18,167.02 445.30,165.80 C446.42,164.58 447.57,163.62 448.70,162.50 C449.83,161.38 451.17,160.23 452.10,159.10 C453.03,157.97 453.75,157.02 454.30,155.70 C454.85,154.38 455.02,152.88 455.40,151.20 C455.78,149.52 456.27,148.30 456.60,145.60 C456.93,142.90 457.17,137.60 457.40,135.00 C457.63,132.40 457.72,132.15 458.00,130.00 C458.28,127.85 458.73,124.92 459.10,122.10 C459.47,119.28 459.83,116.28 460.20,113.10 C460.57,109.92 460.83,106.00 461.30,103.00 C461.77,100.00 462.33,97.07 463.00,95.10 C463.67,93.13 464.55,91.20 465.30,91.20 C466.05,91.20 466.85,93.13 467.50,95.10 C468.15,97.07 468.63,100.38 469.20,103.00 C469.77,105.62 470.33,108.00 470.90,110.80 C471.47,113.60 472.03,117.37 472.60,119.80 C473.17,122.23 473.55,123.98 474.30,125.40 C475.05,126.82 476.15,127.45 477.10,128.30 C478.05,129.15 479.10,129.47 480.00,130.50 C480.90,131.53 481.57,132.92 482.50,134.50 C483.43,136.08 484.70,138.90 485.60,140.00 C486.50,141.10 487.05,141.38 487.90,141.10 C488.75,140.82 489.77,139.72 490.70,138.30 C491.63,136.88 492.57,134.20 493.50,132.60 C494.43,131.00 495.47,129.50 496.30,128.70 C497.13,127.90 497.67,127.70 498.50,127.80 C499.33,127.90 500.27,128.50 501.30,129.30 C502.33,130.10 503.57,131.30 504.70,132.60 C505.83,133.90 507.17,135.60 508.10,137.10 C509.03,138.60 509.65,140.28 510.30,141.60 C510.95,142.92 511.47,144.02 512.00,145.00 C512.53,145.98 512.95,146.83 513.50,147.50 C514.05,148.17 514.63,149.00 515.30,149.00 C515.97,149.00 516.83,148.27 517.50,147.50 C518.17,146.73 518.53,145.47 519.30,144.40 C520.07,143.33 521.23,141.82 522.10,141.10 C522.97,140.38 523.53,139.95 524.50,140.10 C525.47,140.25 526.87,141.50 527.90,142.00 C528.93,142.50 529.77,143.10 530.70,143.10 C531.63,143.10 532.47,142.32 533.50,142.00 C534.53,141.68 535.97,140.92 536.90,141.20 C537.83,141.48 538.45,142.53 539.10,143.70 C539.75,144.87 540.23,146.65 540.80,148.20 C541.37,149.75 541.93,151.53 542.50,153.00 C543.07,154.47 543.58,155.55 544.20,157.00 C544.82,158.45 545.45,160.25 546.20,161.70 C546.95,163.15 547.78,164.87 548.70,165.70 C549.62,166.53 550.60,166.45 551.70,166.70 C552.80,166.95 554.20,166.68 555.30,167.20 C556.40,167.72 557.30,168.95 558.30,169.80 C559.30,170.65 560.20,171.38 561.30,172.30 C562.40,173.22 564.30,174.80 564.90,175.30"/>
<path d="M420.77,183.07 L420.90,182.81 L421.07,182.46 L421.25,182.09 L421.44,181.71 L421.63,181.31 L421.83,180.91 L422.04,180.50 L422.25,180.09 L422.46,179.67 L422.68,179.26 L422.90,178.84 L423.12,178.44 L423.33,178.04 L423.55,177.66 L423.76,177.31 M428.84,171.86 L428.91,171.80 L429.10,171.64 L429.27,171.49 L429.44,171.34 L429.60,171.20 L429.75,171.06 L429.89,170.93 L430.03,170.80 L430.15,170.68 L430.27,170.57 L430.39,170.46 L430.50,170.36 L430.60,170.26 L430.70,170.17 L430.80,170.08 L430.89,170.00 L430.98,169.92 L431.07,169.84 L431.15,169.77 L431.24,169.70 L431.32,169.64 L431.40,169.57 L431.48,169.51 L431.56,169.46 L431.65,169.40 L431.73,169.35 L431.82,169.30 L431.91,169.25 L432.00,169.20 L432.09,169.16 L432.18,169.12 L432.26,169.08 L432.35,169.05 L432.43,169.03 L432.50,169.01 L432.58,168.99 L432.66,168.98 L432.73,168.97 L432.81,168.96 L432.88,168.95 L432.96,168.95 L433.03,168.95 L433.11,168.95 L433.19,168.95 L433.28,168.94 L433.36,168.94 L433.46,168.94 L433.55,168.94 L433.65,168.94 L433.75,168.93 L433.86,168.92 L433.98,168.91 L434.10,168.90 L434.23,168.89 L434.32,168.88 M441.40,167.00 L441.54,166.84 L441.69,166.68 L441.83,166.50 L441.97,166.31 L442.12,166.11 L442.26,165.91 L442.41,165.69 L442.56,165.47 L442.70,165.24 L442.85,165.00 L442.99,164.76 L443.14,164.51 L443.28,164.26 L443.43,164.00 L443.57,163.74 L443.71,163.47 L443.85,163.21 L443.99,162.94 L444.13,162.66 L444.27,162.39 L444.40,162.12 L444.54,161.84 L444.67,161.57 L444.80,161.30 L444.83,161.24 M447.60,154.00 L447.76,153.74 L447.92,153.48 L448.09,153.23 L448.27,152.99 L448.45,152.75 L448.63,152.52 L448.82,152.29 L449.02,152.07 L449.22,151.85 L449.42,151.63 L449.62,151.42 L449.82,151.20 L450.02,150.98 L450.22,150.77 L450.43,150.55 L450.63,150.33 L450.82,150.11 L451.02,149.88 L451.21,149.65 L451.40,149.41 L451.58,149.17 L451.76,148.92 L451.93,148.66 L452.03,148.51 M455.40,141.10 L455.49,140.79 L455.57,140.47 L455.64,140.16 L455.71,139.84 L455.78,139.52 L455.83,139.20 L455.89,138.88 L455.94,138.56 L455.98,138.24 L456.02,137.92 L456.06,137.60 L456.10,137.28 L456.13,136.95 L456.17,136.63 L456.20,136.31 L456.23,135.99 L456.26,135.67 L456.29,135.36 L456.32,135.04 L456.35,134.73 L456.39,134.42 L456.39,134.38 M457.40,126.60 L457.43,126.33 L457.46,126.07 L457.49,125.81 L457.51,125.55 L457.54,125.30 L457.56,125.05 L457.59,124.81 L457.61,124.56 L457.63,124.32 L457.66,124.08 L457.68,123.84 L457.70,123.59 L457.72,123.35 L457.74,123.10 L457.77,122.86 L457.79,122.60 L457.81,122.35 L457.84,122.09 L457.86,121.82 L457.89,121.55 L457.91,121.28 L457.94,120.99 L457.97,120.70 L458.00,120.40 L458.03,120.09 L458.06,119.82 M458.90,112.00 L458.93,111.70 L458.95,111.41 L458.97,111.13 L458.99,110.86 L459.01,110.60 L459.02,110.35 L459.04,110.10 L459.05,109.85 L459.06,109.61 L459.08,109.37 L459.09,109.14 L459.10,108.90 L459.11,108.66 L459.12,108.43 L459.14,108.19 L459.15,107.95 L459.16,107.70 L459.18,107.45 L459.19,107.20 L459.21,106.94 L459.23,106.67 L459.25,106.39 L459.27,106.10 L459.30,105.80 L459.33,105.49 L459.35,105.21 M460.20,97.40 L460.23,97.10 L460.26,96.81 L460.29,96.53 L460.32,96.26 L460.35,96.00 L460.38,95.74 L460.40,95.48 L460.43,95.24 L460.46,94.99 L460.48,94.75 L460.51,94.51 L460.53,94.28 L460.56,94.04 L460.58,93.80 L460.60,93.56 L460.63,93.32 L460.65,93.07 L460.67,92.82 L460.69,92.57 L460.72,92.31 L460.74,92.05 L460.76,91.77 L460.78,91.49 L460.80,91.20 L460.82,90.90 L460.82,90.82 M461.20,83.20 L461.24,82.90 L461.27,82.60 L461.32,82.31 L461.36,82.02 L461.41,81.74 L461.46,81.46 L461.51,81.19 L461.57,80.91 L461.62,80.65 L461.68,80.38 L461.74,80.11 L461.79,79.84 L461.85,79.58 L461.91,79.31 L461.97,79.04 L462.02,78.77 L462.08,78.50 L462.13,78.23 L462.18,77.95 L462.23,77.67 L462.28,77.39 L462.32,77.10 L462.36,76.80 L462.40,76.50 L462.40,76.47 M462.90,68.60 L462.93,68.30 L462.97,68.00 L463.01,67.71 L463.05,67.42 L463.09,67.13 L463.13,66.85 L463.17,66.56 L463.22,66.29 L463.26,66.01 L463.31,65.73 L463.36,65.46 L463.41,65.19 L463.45,64.92 L463.50,64.65 L463.55,64.37 L463.60,64.10 L463.65,63.83 L463.70,63.56 L463.75,63.29 L463.80,63.01 L463.85,62.74 L463.90,62.46 L463.95,62.18 L464.00,61.90 L464.03,61.72 M465.57,53.83 L465.60,53.76 L465.65,53.64 L465.70,53.53 L465.75,53.43 L465.80,53.34 L465.85,53.26 L465.90,53.19 L465.96,53.13 L466.01,53.09 L466.07,53.05 L466.12,53.03 L466.18,53.02 L466.24,53.03 L466.30,53.05 L466.37,53.09 L466.43,53.13 L466.50,53.20 L466.57,53.28 L466.64,53.39 L466.72,53.51 L466.80,53.64 L466.88,53.80 L466.97,53.97 L467.06,54.15 L467.14,54.35 L467.23,54.56 L467.32,54.78 L467.42,55.01 L467.51,55.25 L467.60,55.50 L467.69,55.75 L467.78,56.02 L467.87,56.29 L467.95,56.56 L468.04,56.83 L468.12,57.11 L468.20,57.39 L468.28,57.67 L468.36,57.95 L468.43,58.23 L468.46,58.35 M469.70,66.30 L469.76,66.60 L469.82,66.90 L469.88,67.19 L469.95,67.48 L470.01,67.76 L470.08,68.04 L470.15,68.32 L470.22,68.60 L470.29,68.87 L470.36,69.15 L470.43,69.42 L470.50,69.69 L470.57,69.97 L470.64,70.24 L470.71,70.51 L470.78,70.79 L470.85,71.07 L470.92,71.35 L470.99,71.63 L471.05,71.91 L471.12,72.20 L471.18,72.50 L471.24,72.80 L471.29,73.07 M472.50,81.00 L472.55,81.29 L472.59,81.57 L472.63,81.85 L472.67,82.12 L472.71,82.38 L472.75,82.64 L472.78,82.90 L472.82,83.15 L472.85,83.40 L472.89,83.64 L472.92,83.89 L472.96,84.13 L473.00,84.37 L473.04,84.62 L473.09,84.86 L473.14,85.11 L473.19,85.36 L473.25,85.61 L473.31,85.86 L473.37,86.12 L473.44,86.38 L473.52,86.65 L473.61,86.92 L473.70,87.20 L473.80,87.49 L473.83,87.58 M477.10,94.60 L477.27,94.84 L477.44,95.06 L477.62,95.27 L477.80,95.47 L477.98,95.65 L478.17,95.83 L478.37,96.00 L478.56,96.16 L478.76,96.32 L478.95,96.47 L479.15,96.62 L479.35,96.77 L479.55,96.92 L479.75,97.07 L479.94,97.23 L480.14,97.39 L480.33,97.55 L480.53,97.72 L480.72,97.91 L480.90,98.10 L481.08,98.30 L481.26,98.52 L481.43,98.75 L481.60,99.00 L481.76,99.26 L481.91,99.52 M485.00,106.90 L485.14,107.18 L485.28,107.46 L485.42,107.74 L485.56,108.02 L485.70,108.30 L485.85,108.58 L485.99,108.86 L486.13,109.13 L486.27,109.40 L486.41,109.66 L486.55,109.92 L486.69,110.17 L486.83,110.41 L486.97,110.65 L487.11,110.88 L487.25,111.09 L487.39,111.30 L487.54,111.50 L487.68,111.68 L487.82,111.85 L487.97,112.01 L488.11,112.16 L488.24,112.27 M495.20,111.30 L495.34,111.26 L495.47,111.22 L495.61,111.17 L495.75,111.12 L495.89,111.07 L496.03,111.02 L496.17,110.96 L496.31,110.90 L496.45,110.85 L496.59,110.79 L496.73,110.73 L496.88,110.68 L497.02,110.62 L497.16,110.57 L497.29,110.51 L497.43,110.46 L497.57,110.42 L497.71,110.37 L497.84,110.33 L497.98,110.30 L498.11,110.26 L498.24,110.24 L498.37,110.22 L498.50,110.20 L498.63,110.19 L498.75,110.18 L498.87,110.18 L498.99,110.18 L499.11,110.18 L499.23,110.18 L499.34,110.19 L499.46,110.20 L499.57,110.21 L499.68,110.23 L499.79,110.25 L499.91,110.27 L500.02,110.29 L500.13,110.32 L500.24,110.35 L500.36,110.38 L500.47,110.41 L500.58,110.45 L500.70,110.48 L500.82,110.52 L500.93,110.56 L501.05,110.61 L501.18,110.65 L501.30,110.70 L501.33,110.71 M507.50,114.70 L507.66,114.87 L507.82,115.05 L507.99,115.23 L508.16,115.43 L508.33,115.63 L508.51,115.85 L508.68,116.07 L508.87,116.29 L509.05,116.52 L509.24,116.76 L509.43,117.00 L509.62,117.25 L509.81,117.50 L510.01,117.75 L510.20,118.01 L510.40,118.26 L510.60,118.52 L510.80,118.78 L511.00,119.04 L511.20,119.29 L511.40,119.55 L511.60,119.80 L511.80,120.05 L511.93,120.21 M517.10,126.50 L517.26,126.61 L517.42,126.71 L517.56,126.79 L517.70,126.84 L517.83,126.89 L517.96,126.91 L518.08,126.93 L518.19,126.93 L518.30,126.92 L518.41,126.90 L518.52,126.87 L518.62,126.84 L518.73,126.80 L518.83,126.75 L518.94,126.70 L519.04,126.65 L519.15,126.60 L519.26,126.54 L519.37,126.49 L519.48,126.44 L519.60,126.40 L519.73,126.36 L519.86,126.33 L520.00,126.30 L520.14,126.28 L520.29,126.25 L520.44,126.22 L520.59,126.19 L520.74,126.16 L520.90,126.13 L521.06,126.09 L521.22,126.06 L521.38,126.02 L521.54,125.98 L521.71,125.94 L521.88,125.90 L522.04,125.86 L522.21,125.82 L522.38,125.78 L522.55,125.74 L522.72,125.71 L522.89,125.67 L523.06,125.64 L523.23,125.61 L523.40,125.58 L523.56,125.55 L523.73,125.52 L523.77,125.52 M531.80,125.50 L531.95,125.51 L532.10,125.51 L532.25,125.51 L532.40,125.51 L532.56,125.51 L532.71,125.51 L532.86,125.50 L533.01,125.50 L533.16,125.49 L533.31,125.49 L533.45,125.48 L533.60,125.48 L533.75,125.48 L533.89,125.48 L534.03,125.49 L534.17,125.49 L534.31,125.50 L534.44,125.52 L534.58,125.53 L534.71,125.56 L534.84,125.58 L534.96,125.62 L535.08,125.66 L535.20,125.70 L535.31,125.75 L535.42,125.79 L535.52,125.84 L535.62,125.88 L535.71,125.93 L535.79,125.98 L535.88,126.03 L535.96,126.08 L536.04,126.14 L536.12,126.20 L536.19,126.26 L536.27,126.33 L536.35,126.41 L536.42,126.49 L536.50,126.58 L536.59,126.67 L536.67,126.78 L536.76,126.89 L536.85,127.02 L536.95,127.15 L537.05,127.29 L537.16,127.45 L537.28,127.62 L537.40,127.80 L537.50,127.95 M541.30,134.70 L541.43,134.97 L541.55,135.24 L541.66,135.50 L541.77,135.76 L541.87,136.02 L541.97,136.27 L542.07,136.52 L542.16,136.77 L542.25,137.02 L542.34,137.27 L542.43,137.52 L542.51,137.77 L542.60,138.02 L542.68,138.27 L542.76,138.52 L542.85,138.77 L542.93,139.02 L543.02,139.28 L543.11,139.54 L543.20,139.81 L543.29,140.07 L543.39,140.34 L543.49,140.62 L543.60,140.90 L543.65,141.04 M546.50,148.30 L546.64,148.58 L546.79,148.86 L546.94,149.14 L547.08,149.42 L547.23,149.70 L547.38,149.97 L547.53,150.24 L547.69,150.51 L547.84,150.78 L548.00,151.04 L548.16,151.31 L548.32,151.57 L548.48,151.83 L548.65,152.08 L548.82,152.34 L548.99,152.59 L549.17,152.84 L549.35,153.08 L549.53,153.33 L549.72,153.57 L549.91,153.80 L550.10,154.04 L550.18,154.13 M556.30,159.20 L556.54,159.39 L556.78,159.59 L557.02,159.78 L557.26,159.98 L557.51,160.17 L557.75,160.37 L557.99,160.56 L558.24,160.76 L558.48,160.95 L558.72,161.15 L558.97,161.34 L559.21,161.54 L559.45,161.73 L559.68,161.92 L559.92,162.11 L560.15,162.30 L560.38,162.48 L560.61,162.66 L560.83,162.84 L561.06,163.02 L561.27,163.20 L561.37,163.27"/>
<path d="M420.66,183.61 L420.72,183.52 L420.84,183.36 L420.96,183.18 L421.09,183.01 L421.22,182.82 L421.35,182.64 L421.49,182.45 L421.62,182.26 L421.76,182.07 L421.90,181.88 L422.04,181.69 L422.19,181.50 L422.33,181.32 L422.47,181.14 L422.60,180.97 L422.74,180.81 L422.87,180.65 L423.00,180.50 L423.13,180.35 L423.26,180.21 L423.38,180.06 L423.51,179.91 L423.64,179.75 L423.77,179.60 L423.91,179.45 L424.04,179.30 L424.17,179.15 L424.30,179.00 L424.44,178.85 L424.57,178.71 L424.70,178.58 L424.80,178.48 M428.77,177.98 L428.82,178.00 L428.97,178.05 L429.12,178.09 L429.28,178.13 L429.44,178.17 L429.60,178.20 L429.74,178.22 M434.10,178.80 L434.35,178.84 L434.62,178.89 L434.90,178.94 L435.19,178.99 L435.49,179.04 L435.79,179.09 L436.11,179.15 L436.43,179.21 L436.76,179.27 L437.08,179.33 L437.42,179.39 L437.75,179.45 L438.08,179.51 L438.42,179.58 L438.74,179.64 L439.07,179.70 L439.39,179.77 L439.71,179.83 L440.01,179.89 L440.31,179.96 L440.60,180.02 L440.84,180.07 M445.15,181.54 L445.18,181.55 L445.36,181.57 L445.53,181.59 L445.71,181.60 L445.90,181.60 L446.09,181.59 L446.19,181.58 M450.40,179.90 L450.60,179.78 L450.79,179.66 L450.99,179.54 L451.20,179.40 L451.40,179.27 L451.61,179.13 L451.81,178.98 L452.02,178.83 L452.23,178.68 L452.44,178.53 L452.65,178.37 L452.86,178.21 L453.06,178.04 L453.27,177.88 L453.47,177.71 L453.68,177.54 L453.88,177.38 L454.08,177.21 L454.27,177.04 L454.47,176.87 L454.66,176.70 L454.84,176.53 L455.02,176.37 L455.20,176.20 L455.37,176.03 L455.54,175.86 L455.58,175.82 M458.41,172.44 L458.51,172.32 L458.65,172.16 L458.80,172.00 L458.95,171.84 L459.08,171.69 M462.20,168.60 L462.32,168.53 L462.43,168.47 L462.54,168.41 L462.65,168.36 L462.75,168.31 L462.86,168.27 L462.96,168.24 L463.05,168.21 L463.15,168.18 L463.24,168.17 L463.33,168.16 L463.43,168.15 L463.52,168.15 L463.61,168.15 L463.70,168.17 L463.79,168.18 L463.89,168.20 L463.98,168.23 L464.08,168.26 L464.18,168.30 L464.28,168.34 L464.38,168.39 L464.49,168.44 L464.60,168.50 L464.71,168.57 L464.83,168.64 L464.95,168.72 L465.06,168.81 L465.18,168.91 L465.31,169.02 L465.43,169.13 L465.55,169.25 L465.68,169.37 L465.80,169.50 L465.93,169.63 L466.06,169.77 L466.18,169.91 L466.31,170.05 L466.44,170.19 L466.57,170.34 L466.70,170.49 L466.83,170.64 L466.96,170.78 L467.09,170.93 L467.22,171.08 L467.34,171.22 L467.39,171.27 M470.09,174.66 L470.10,174.67 L470.24,174.79 L470.39,174.91 L470.54,175.01 L470.70,175.10 L470.86,175.18 L470.91,175.20 M475.20,175.60 L475.37,175.60 L475.54,175.60 L475.70,175.59 L475.86,175.57 L476.03,175.55 L476.19,175.53 L476.35,175.50 L476.51,175.48 L476.66,175.45 L476.82,175.42 L476.97,175.39 L477.13,175.36 L477.28,175.34 L477.42,175.31 L477.57,175.29 L477.71,175.27 L477.86,175.25 L478.00,175.24 L478.14,175.23 L478.27,175.23 L478.41,175.24 L478.54,175.25 L478.67,175.27 L478.80,175.30 L478.92,175.34 L479.04,175.38 L479.16,175.43 L479.27,175.49 L479.37,175.55 L479.47,175.62 L479.57,175.69 L479.67,175.77 L479.76,175.85 L479.85,175.93 L479.95,176.02 L480.04,176.11 L480.13,176.20 L480.22,176.29 L480.32,176.38 L480.41,176.48 L480.51,176.57 L480.61,176.67 L480.71,176.76 L480.82,176.85 L480.93,176.94 L481.05,177.03 L481.17,177.12 L481.20,177.13 M485.03,179.21 L485.10,179.20 L485.27,179.16 L485.43,179.11 L485.60,179.04 L485.76,178.96 L485.93,178.87 L485.97,178.85 M489.20,175.80 L489.37,175.62 L489.55,175.43 L489.72,175.23 L489.90,175.02 L490.07,174.81 L490.25,174.59 L490.42,174.36 L490.60,174.13 L490.77,173.90 L490.95,173.66 L491.12,173.43 L491.30,173.19 L491.48,172.96 L491.65,172.73 L491.83,172.50 L492.00,172.28 L492.18,172.07 L492.35,171.86 L492.53,171.65 L492.70,171.46 L492.88,171.28 L493.05,171.11 L493.23,170.95 L493.37,170.83 M497.25,169.10 L497.32,169.10 L497.50,169.10 L497.68,169.11 L497.86,169.13 L498.04,169.16 L498.22,169.20 L498.22,169.20 M502.10,171.10 L502.33,171.22 L502.56,171.35 L502.80,171.49 L503.05,171.63 L503.31,171.77 L503.57,171.92 L503.83,172.07 L504.10,172.23 L504.37,172.39 L504.65,172.55 L504.92,172.72 L505.19,172.88 L505.47,173.05 L505.73,173.21 L506.00,173.38 L506.26,173.55 L506.52,173.71 L506.77,173.88 L507.02,174.04 L507.25,174.20 L507.48,174.35 L507.70,174.51 L507.79,174.57 M510.92,177.70 L511.05,177.79 L511.20,177.90 L511.36,178.01 L511.53,178.13 L511.69,178.25 L511.74,178.28 M515.70,179.90 L515.89,179.82 L516.08,179.72 L516.28,179.59 L516.47,179.43 L516.67,179.26 L516.87,179.07 L517.07,178.86 L517.27,178.64 L517.47,178.40 L517.67,178.16 L517.86,177.90 L518.06,177.64 L518.26,177.38 L518.46,177.11 L518.65,176.85 L518.84,176.59 L519.04,176.33 L519.22,176.07 L519.41,175.83 L519.60,175.59 L519.78,175.37 L519.95,175.16 L520.08,175.03 M523.37,172.16 L523.49,172.13 L523.64,172.11 L523.80,172.10 L523.96,172.11 L524.12,172.14 L524.29,172.19 L524.35,172.21 M527.90,174.80 L528.05,174.89 L528.19,174.99 L528.33,175.08 L528.46,175.17 L528.60,175.27 L528.73,175.36 L528.86,175.46 L528.98,175.55 L529.11,175.64 L529.23,175.73 L529.35,175.81 L529.47,175.89 L529.59,175.97 L529.71,176.05 L529.82,176.12 L529.94,176.19 L530.06,176.25 L530.18,176.30 L530.29,176.35 L530.41,176.40 L530.53,176.43 L530.65,176.46 L530.78,176.49 L530.90,176.50 L531.02,176.51 L531.15,176.50 L531.27,176.49 L531.39,176.47 L531.51,176.45 L531.62,176.42 L531.74,176.38 L531.86,176.33 L531.98,176.28 L532.09,176.23 L532.21,176.17 L532.33,176.11 L532.45,176.05 L532.57,175.98 L532.69,175.91 L532.82,175.84 L532.94,175.77 L533.07,175.70 L533.20,175.63 L533.34,175.56 L533.47,175.49 L533.61,175.43 L533.70,175.39 M537.62,173.57 L537.67,173.57 L537.84,173.58 L538.00,173.60 L538.16,173.64 L538.32,173.69 L538.47,173.76 L538.57,173.81 M541.60,176.90 L541.76,177.09 L541.92,177.30 L542.09,177.52 L542.26,177.75 L542.42,178.00 L542.59,178.25 L542.76,178.51 L542.93,178.77 L543.11,179.04 L543.28,179.31 L543.45,179.59 L543.62,179.86 L543.80,180.12 L543.97,180.39 L544.15,180.64 L544.32,180.89 L544.50,181.13 L544.67,181.36 L544.84,181.58 L545.02,181.78 L545.19,181.96 L545.36,182.13 L545.40,182.16 M549.51,182.45 L549.52,182.44 L549.70,182.40 L549.88,182.35 L550.06,182.28 L550.24,182.20 L550.42,182.11 L550.43,182.10 M554.30,180.40 L554.52,180.45 L554.76,180.53 L554.99,180.63 L555.24,180.74 L555.48,180.87 L555.73,181.02 L555.99,181.18 L556.25,181.36 L556.51,181.54 L556.77,181.74 L557.04,181.94 L557.30,182.14 L557.56,182.35 L557.83,182.56 L558.09,182.78 L558.35,182.99 L558.61,183.19 L558.87,183.39 L559.12,183.59 L559.36,183.77 L559.61,183.95 L559.75,184.05 M563.68,186.00 L563.76,186.03 L563.94,186.10 L564.11,186.17 L564.27,186.23 L564.42,186.29 L564.55,186.35 L564.61,186.37"/>
<path d="M94.10,377.10 C94.43,377.77 95.35,379.92 96.10,381.10 C96.85,382.28 97.77,383.87 98.60,384.20 C99.43,384.53 100.17,384.12 101.10,383.10 C102.03,382.08 103.18,379.35 104.20,378.10 C105.22,376.85 106.28,375.85 107.20,375.60 C108.12,375.35 108.77,375.77 109.70,376.60 C110.63,377.43 111.78,379.17 112.80,380.60 C113.82,382.03 114.80,384.02 115.80,385.20 C116.80,386.38 117.70,387.12 118.80,387.70 C119.90,388.28 121.30,388.20 122.40,388.70 C123.50,389.20 124.40,389.68 125.40,390.70 C126.40,391.72 127.47,393.45 128.40,394.80 C129.33,396.15 130.15,397.62 131.00,398.80 C131.85,399.98 132.67,401.22 133.50,401.90 C134.33,402.58 135.25,402.82 136.00,402.90 C136.75,402.98 137.15,403.00 138.00,402.40 C138.85,401.80 139.92,400.40 141.10,399.30 C142.28,398.20 143.93,396.38 145.10,395.80 C146.27,395.22 147.00,395.63 148.10,395.80 C149.20,395.97 150.52,396.72 151.70,396.80 C152.88,396.88 153.77,396.80 155.20,396.30 C156.63,395.80 158.78,393.97 160.30,393.80 C161.82,393.63 162.95,394.47 164.30,395.30 C165.65,396.13 167.22,398.05 168.40,398.80 C169.58,399.55 170.23,400.05 171.40,399.80 C172.57,399.55 174.05,398.38 175.40,397.30 C176.75,396.22 178.17,394.23 179.50,393.30 C180.83,392.37 182.20,392.07 183.40,391.70 C184.60,391.33 185.58,390.97 186.70,391.10 C187.82,391.23 188.97,391.95 190.10,392.50 C191.23,393.05 192.37,393.93 193.50,394.40 C194.63,394.87 195.78,395.33 196.90,395.30 C198.02,395.27 198.98,394.57 200.20,394.20 C201.42,393.83 202.88,393.07 204.20,393.10 C205.52,393.13 206.80,393.98 208.10,394.40 C209.40,394.82 210.68,395.60 212.00,395.60 C213.32,395.60 214.68,394.80 216.00,394.40 C217.32,394.00 218.68,393.20 219.90,393.20 C221.12,393.20 222.27,393.85 223.30,394.40 C224.33,394.95 225.08,395.88 226.10,396.50 C227.12,397.12 228.10,397.70 229.40,398.10 C230.70,398.50 232.38,398.78 233.90,398.90 C235.42,399.02 237.73,398.82 238.50,398.80"/>
<path d="M94.10,391.20 L94.25,391.28 L94.42,391.37 L94.62,391.47 L94.84,391.59 L95.08,391.72 L95.34,391.85 L95.61,392.00 L95.90,392.15 L96.20,392.31 L96.50,392.47 L96.82,392.63 L97.14,392.80 L97.46,392.97 L97.78,393.14 L98.10,393.30 L98.42,393.46 L98.74,393.62 L99.04,393.77 L99.34,393.92 L99.62,394.06 L99.89,394.18 L100.09,394.28 M107.70,395.30 L107.85,395.31 L108.00,395.32 L108.16,395.33 L108.31,395.34 L108.46,395.35 L108.61,395.36 L108.76,395.37 L108.91,395.39 L109.06,395.40 L109.21,395.41 L109.36,395.43 L109.51,395.44 L109.66,395.46 L109.81,395.48 L109.96,395.50 L110.11,395.53 L110.26,395.55 L110.41,395.58 L110.56,395.61 L110.71,395.64 L110.86,395.68 L111.00,395.71 L111.15,395.76 L111.30,395.80 L111.45,395.85 L111.60,395.90 L111.74,395.95 L111.89,396.01 L112.04,396.07 L112.19,396.13 L112.34,396.20 L112.49,396.27 L112.63,396.34 L112.78,396.41 L112.93,396.48 L113.07,396.56 L113.22,396.63 L113.37,396.71 L113.51,396.79 L113.66,396.87 L113.80,396.95 L113.95,397.03 L114.09,397.11 L114.24,397.19 L114.29,397.22 M121.40,400.80 L121.53,400.80 L121.66,400.80 L121.79,400.79 L121.92,400.78 L122.05,400.76 L122.18,400.74 L122.30,400.71 L122.43,400.67 L122.55,400.64 L122.68,400.60 L122.80,400.55 L122.92,400.51 L123.05,400.46 L123.17,400.40 L123.29,400.35 L123.41,400.29 L123.54,400.23 L123.66,400.17 L123.78,400.11 L123.90,400.05 L124.03,399.99 L124.15,399.93 L124.28,399.86 L124.40,399.80 L124.53,399.74 L124.65,399.67 L124.78,399.60 L124.90,399.53 L125.03,399.45 L125.16,399.38 L125.29,399.30 L125.41,399.22 L125.54,399.14 L125.67,399.05 L125.80,398.97 L125.92,398.88 L126.05,398.79 L126.18,398.71 L126.30,398.62 L126.43,398.53 L126.55,398.44 L126.68,398.34 L126.80,398.25 L126.92,398.16 L127.04,398.07 L127.15,397.99 M133.00,393.30 L133.10,393.22 L133.20,393.14 L133.29,393.06 L133.38,392.98 L133.46,392.90 L133.55,392.82 L133.63,392.74 L133.70,392.66 L133.78,392.59 L133.85,392.51 L133.93,392.44 L134.00,392.36 L134.07,392.29 L134.15,392.22 L134.22,392.16 L134.30,392.09 L134.37,392.03 L134.45,391.97 L134.54,391.92 L134.62,391.87 L134.71,391.82 L134.80,391.78 L134.90,391.74 L135.00,391.70 L135.11,391.67 L135.22,391.64 L135.34,391.62 L135.46,391.60 L135.59,391.59 L135.71,391.58 L135.85,391.57 L135.98,391.56 L136.12,391.56 L136.26,391.56 L136.39,391.56 L136.53,391.57 L136.67,391.58 L136.81,391.58 L136.94,391.59 L137.07,391.60 L137.20,391.62 L137.33,391.63 L137.46,391.64 L137.58,391.65 L137.69,391.67 L137.80,391.68 L137.90,391.69 L138.00,391.70 L138.09,391.71 L138.17,391.72 L138.25,391.73 L138.33,391.75 L138.39,391.76 L138.46,391.77 L138.52,391.79 L138.57,391.80 L138.63,391.82 L138.68,391.83 L138.73,391.85 L138.78,391.87 L138.83,391.89 L138.85,391.90 M145.60,395.10 L145.77,395.16 L145.95,395.22 L146.13,395.29 L146.31,395.35 L146.49,395.41 L146.68,395.47 L146.86,395.54 L147.05,395.60 L147.24,395.66 L147.44,395.72 L147.63,395.78 L147.83,395.84 L148.02,395.90 L148.22,395.96 L148.42,396.01 L148.61,396.07 L148.81,396.13 L149.01,396.18 L149.21,396.24 L149.41,396.29 L149.61,396.35 L149.81,396.40 L150.00,396.45 L150.20,396.50 L150.40,396.55 L150.59,396.59 L150.79,396.64 L150.98,396.68 L151.18,396.72 L151.37,396.76 L151.57,396.80 L151.77,396.83 L151.96,396.87 L152.16,396.90 L152.36,396.94 L152.45,396.96 M160.30,399.30 L160.54,399.41 L160.78,399.52 L161.03,399.64 L161.29,399.77 L161.54,399.90 L161.80,400.04 L162.07,400.18 L162.33,400.32 L162.60,400.47 L162.87,400.62 L163.13,400.76 L163.40,400.91 L163.66,401.06 L163.93,401.21 L164.19,401.35 L164.44,401.49 L164.70,401.62 L164.95,401.76 L165.19,401.88 L165.43,402.00 L165.66,402.11 L165.88,402.22 L166.09,402.31 L166.30,402.40 L166.48,402.47 M174.40,403.40 L174.62,403.43 L174.86,403.47 L175.10,403.52 L175.35,403.57 L175.60,403.62 L175.87,403.68 L176.13,403.75 L176.40,403.81 L176.68,403.88 L176.95,403.95 L177.23,404.01 L177.51,404.08 L177.78,404.15 L178.06,404.21 L178.33,404.27 L178.60,404.33 L178.86,404.39 L179.12,404.44 L179.37,404.48 L179.61,404.52 L179.85,404.55 L180.08,404.58 L180.29,404.59 L180.50,404.60 L180.69,404.60 L180.88,404.59 L181.06,404.58 L181.14,404.57 M188.40,401.50 L188.59,401.36 L188.78,401.20 L188.97,401.03 L189.16,400.84 L189.36,400.65 L189.55,400.45 L189.75,400.23 L189.94,400.02 L190.14,399.80 L190.34,399.57 L190.54,399.35 L190.73,399.12 L190.93,398.90 L191.12,398.68 L191.31,398.47 L191.50,398.26 L191.69,398.06 L191.87,397.87 L192.05,397.69 L192.23,397.52 L192.40,397.36 L192.57,397.23 L192.74,397.10 L192.90,397.00 L192.94,396.98 M200.20,397.60 L200.42,397.65 L200.65,397.71 L200.90,397.77 L201.15,397.83 L201.41,397.90 L201.67,397.98 L201.94,398.05 L202.21,398.13 L202.49,398.21 L202.77,398.29 L203.06,398.37 L203.34,398.46 L203.62,398.54 L203.90,398.62 L204.18,398.70 L204.45,398.78 L204.72,398.86 L204.99,398.93 L205.24,399.01 L205.49,399.07 L205.74,399.14 L205.97,399.20 L206.19,399.25 L206.20,399.25 M213.10,401.00 L213.20,401.05 L213.29,401.11 L213.38,401.16 L213.47,401.20 L213.54,401.25 L213.62,401.29 L213.69,401.34 L213.76,401.38 L213.83,401.43 L213.89,401.47 L213.95,401.52 L214.02,401.57 L214.08,401.62 L214.15,401.68 L214.22,401.73 L214.29,401.80 L214.36,401.86 L214.43,401.94 L214.51,402.01 L214.60,402.10 L214.69,402.19 L214.79,402.28 L214.89,402.39 L215.00,402.50 L215.12,402.62 L215.24,402.76 L215.37,402.91 L215.50,403.07 L215.64,403.24 L215.79,403.42 L215.93,403.60 L216.08,403.79 L216.23,403.99 L216.39,404.19 L216.55,404.39 L216.71,404.59 L216.87,404.79 L217.03,404.99 L217.19,405.18 L217.35,405.37 L217.51,405.56 L217.67,405.74 L217.83,405.91 L217.90,405.97 M225.50,407.30 L225.63,407.27 L225.76,407.24 L225.89,407.21 L226.02,407.17 L226.14,407.13 L226.26,407.08 L226.38,407.03 L226.50,406.99 L226.62,406.93 L226.73,406.88 L226.85,406.83 L226.97,406.78 L227.09,406.73 L227.20,406.68 L227.32,406.64 L227.44,406.59 L227.57,406.55 L227.69,406.51 L227.82,406.48 L227.95,406.45 L228.08,406.43 L228.22,406.41 L228.36,406.40 L228.50,406.40 L228.65,406.40 L228.81,406.41 L228.98,406.43 L229.16,406.46 L229.34,406.49 L229.52,406.52 L229.71,406.56 L229.91,406.60 L230.10,406.65 L230.30,406.69 L230.49,406.74 L230.69,406.79 L230.88,406.85 L231.07,406.90 L231.25,406.95 L231.43,407.00 L231.60,407.05 L231.76,407.10 L231.77,407.10"/>
<path d="M94.20,277.90 L94.24,278.06 L94.29,278.24 L94.35,278.44 L94.41,278.67 L94.48,278.91 L94.55,279.18 L94.63,279.46 L94.71,279.75 L94.79,280.05 L94.88,280.37 L94.97,280.69 L95.06,281.02 L95.15,281.35 L95.24,281.69 L95.33,282.02 L95.43,282.35 L95.52,282.68 L95.61,283.00 L95.70,283.32 L95.78,283.62 L95.87,283.91 L95.95,284.19 L95.96,284.24 M97.29,288.42 L97.30,288.45 L97.36,288.60 L97.42,288.76 L97.48,288.91 L97.54,289.06 L97.60,289.20 L97.66,289.34 L97.66,289.34 M100.40,291.40 L100.50,291.26 L100.60,291.09 L100.72,290.91 L100.84,290.70 L100.96,290.48 L101.10,290.24 L101.23,289.99 L101.37,289.72 L101.51,289.45 L101.66,289.16 L101.80,288.87 L101.95,288.57 L102.10,288.27 L102.24,287.97 L102.39,287.67 L102.53,287.37 L102.67,287.07 L102.80,286.77 L102.94,286.49 L103.06,286.21 L103.18,285.94 L103.30,285.68 L103.38,285.49 M104.72,281.29 L104.73,281.25 L104.78,281.07 L104.84,280.89 L104.90,280.70 L104.96,280.51 L105.02,280.33 M106.50,276.20 L106.58,276.11 L106.67,276.03 L106.75,275.96 L106.84,275.89 L106.94,275.84 L107.03,275.79 L107.12,275.75 L107.22,275.72 L107.32,275.69 L107.41,275.68 L107.51,275.67 L107.61,275.67 L107.71,275.68 L107.81,275.69 L107.91,275.71 L108.01,275.74 L108.12,275.77 L108.22,275.81 L108.32,275.86 L108.41,275.92 L108.51,275.98 L108.61,276.05 L108.71,276.12 L108.80,276.20 L108.89,276.29 L108.99,276.39 L109.09,276.50 L109.18,276.62 L109.28,276.76 L109.38,276.90 L109.48,277.04 L109.58,277.20 L109.68,277.36 L109.77,277.53 L109.87,277.71 L109.97,277.89 L110.06,278.07 L110.16,278.26 L110.25,278.45 L110.34,278.64 L110.43,278.84 L110.52,279.04 L110.61,279.23 L110.69,279.43 L110.77,279.62 L110.85,279.82 L110.87,279.86 M111.99,284.26 L112.02,284.38 L112.06,284.59 L112.11,284.80 L112.15,285.00 L112.20,285.20 L112.22,285.28 M113.30,289.70 L113.36,289.94 L113.42,290.19 L113.49,290.46 L113.56,290.73 L113.63,291.01 L113.70,291.29 L113.77,291.58 L113.84,291.88 L113.92,292.18 L114.00,292.49 L114.07,292.79 L114.15,293.10 L114.23,293.41 L114.30,293.71 L114.38,294.02 L114.46,294.32 L114.53,294.62 L114.60,294.91 L114.67,295.19 L114.74,295.47 L114.81,295.74 L114.86,295.92 M115.87,300.08 L115.88,300.11 L115.92,300.28 L115.97,300.46 L116.01,300.64 L116.05,300.82 L116.10,301.00 L116.10,301.02 M117.13,305.17 L117.20,305.40 L117.27,305.64 L117.35,305.89 L117.43,306.15 L117.52,306.43 L117.60,306.71 L117.69,307.00 L117.79,307.29 L117.88,307.59 L117.98,307.90 L118.08,308.20 L118.18,308.51 L118.28,308.82 L118.38,309.14 L118.49,309.44 L118.59,309.75 L118.70,310.05 L118.80,310.35 L118.90,310.64 L119.01,310.92 L119.11,311.20 L119.21,311.47 L119.26,311.60 M121.28,315.62 L121.37,315.75 L121.47,315.90 L121.59,316.05 L121.70,316.20 L121.82,316.35 L121.89,316.44 M125.10,319.60 L125.26,319.81 L125.42,320.02 L125.58,320.25 L125.75,320.49 L125.93,320.74 L126.10,320.99 L126.28,321.25 L126.46,321.52 L126.64,321.79 L126.83,322.07 L127.01,322.35 L127.19,322.63 L127.37,322.91 L127.54,323.20 L127.71,323.48 L127.88,323.76 L128.04,324.03 L128.20,324.30 L128.36,324.57 L128.50,324.83 L128.61,325.03 M129.94,329.10 L129.97,329.26 L130.00,329.43 L130.04,329.60 L130.07,329.78 L130.11,329.95 L130.14,330.06 M131.30,334.20 L131.40,334.44 L131.50,334.70 L131.62,334.98 L131.74,335.27 L131.87,335.57 L132.00,335.88 L132.14,336.20 L132.29,336.53 L132.43,336.86 L132.58,337.20 L132.74,337.54 L132.89,337.88 L133.05,338.22 L133.21,338.56 L133.37,338.90 L133.53,339.23 L133.68,339.55 L133.84,339.87 L133.99,340.18 L134.13,340.45 M136.53,344.34 L136.55,344.37 L136.66,344.48 L136.78,344.58 L136.89,344.66 L137.01,344.74 L137.13,344.80 L137.25,344.85 L137.37,344.88 L137.40,344.88 M140.80,342.10 L140.95,341.89 L141.11,341.65 L141.27,341.40 L141.43,341.13 L141.60,340.84 L141.77,340.53 L141.94,340.22 L142.11,339.90 L142.28,339.57 L142.45,339.23 L142.63,338.89 L142.80,338.56 L142.97,338.22 L143.15,337.89 L143.32,337.56 L143.49,337.25 L143.66,336.94 L143.83,336.65 L144.00,336.37 L144.09,336.23 M147.82,334.69 L147.95,334.74 L148.10,334.80 L148.25,334.87 L148.41,334.95 L148.57,335.05 L148.72,335.15 M152.10,338.10 L152.24,338.18 L152.37,338.25 L152.50,338.32 L152.63,338.38 L152.75,338.44 L152.87,338.49 L152.99,338.54 L153.10,338.59 L153.21,338.62 L153.32,338.66 L153.43,338.69 L153.54,338.71 L153.64,338.73 L153.75,338.75 L153.86,338.76 L153.97,338.77 L154.08,338.77 L154.19,338.77 L154.30,338.77 L154.41,338.76 L154.53,338.75 L154.65,338.74 L154.77,338.72 L154.90,338.70 L155.03,338.67 L155.16,338.64 L155.29,338.59 L155.42,338.54 L155.55,338.48 L155.68,338.42 L155.81,338.35 L155.95,338.28 L156.08,338.20 L156.22,338.12 L156.36,338.04 L156.49,337.95 L156.63,337.86 L156.77,337.78 L156.92,337.69 L157.06,337.60 L157.21,337.51 L157.36,337.43 L157.51,337.35 L157.66,337.27 L157.82,337.19 L157.98,337.12 L158.14,337.06 L158.27,337.01 M162.58,335.97 L162.61,335.97 L162.80,336.00 L162.99,336.04 L163.18,336.10 L163.37,336.17 L163.55,336.25 M167.30,338.70 L167.45,338.77 L167.59,338.84 L167.73,338.90 L167.86,338.97 L167.98,339.03 L168.11,339.09 L168.22,339.14 L168.34,339.20 L168.45,339.25 L168.56,339.29 L168.66,339.33 L168.77,339.37 L168.87,339.40 L168.98,339.43 L169.08,339.45 L169.19,339.47 L169.29,339.48 L169.40,339.49 L169.51,339.49 L169.62,339.49 L169.73,339.47 L169.85,339.46 L169.97,339.43 L170.10,339.40 L170.23,339.36 L170.37,339.31 L170.50,339.26 L170.65,339.20 L170.79,339.13 L170.94,339.06 L171.08,338.98 L171.23,338.89 L171.38,338.80 L171.53,338.70 L171.69,338.60 L171.84,338.49 L171.99,338.38 L172.14,338.27 L172.29,338.15 L172.43,338.03 L172.58,337.91 L172.72,337.79 L172.86,337.66 L173.00,337.53 L173.07,337.45 M175.31,333.74 L175.34,333.68 L175.43,333.51 L175.52,333.33 L175.61,333.17 L175.70,333.00 L175.78,332.86 M178.00,329.10 L178.15,328.89 L178.30,328.68 L178.46,328.44 L178.62,328.20 L178.79,327.95 L178.97,327.69 L179.15,327.42 L179.34,327.15 L179.53,326.88 L179.72,326.60 L179.91,326.33 L180.11,326.06 L180.31,325.79 L180.51,325.52 L180.72,325.26 L180.92,325.01 L181.12,324.77 L181.32,324.55 L181.52,324.33 L181.72,324.13 L181.92,323.94 L181.96,323.91 M186.06,323.20 L186.14,323.22 L186.32,323.27 L186.49,323.33 L186.67,323.38 L186.84,323.44 L187.00,323.50 L187.00,323.50 M190.30,326.30 L190.49,326.46 L190.69,326.63 L190.90,326.81 L191.12,327.00 L191.34,327.20 L191.57,327.40 L191.81,327.61 L192.05,327.82 L192.29,328.04 L192.54,328.26 L192.79,328.48 L193.04,328.69 L193.30,328.91 L193.55,329.12 L193.81,329.33 L194.06,329.53 L194.32,329.73 L194.57,329.92 L194.82,330.09 L195.06,330.26 L195.30,330.42 L195.54,330.56 L195.68,330.64 M200.20,331.16 L200.22,331.16 L200.41,331.18 L200.61,331.21 L200.81,331.25 L201.00,331.30 L201.19,331.36 L201.22,331.37 M205.30,333.50 L205.50,333.63 L205.71,333.77 L205.93,333.93 L206.15,334.08 L206.37,334.25 L206.59,334.42 L206.82,334.60 L207.05,334.78 L207.28,334.96 L207.52,335.15 L207.75,335.33 L207.99,335.52 L208.22,335.70 L208.46,335.89 L208.69,336.07 L208.93,336.24 L209.16,336.42 L209.39,336.58 L209.61,336.74 L209.84,336.89 L210.06,337.03 L210.28,337.17 L210.49,337.29 L210.70,337.40 L210.72,337.41 M215.04,338.45 L215.20,338.50 L215.40,338.56 L215.60,338.61 L215.80,338.66 L216.01,338.72 L216.02,338.72 M220.20,340.20 L220.40,340.34 L220.59,340.48 L220.79,340.64 L220.98,340.81 L221.17,340.99 L221.36,341.18 L221.56,341.37 L221.74,341.57 L221.93,341.78 L222.12,341.99 L222.31,342.20 L222.49,342.41 L222.68,342.63 L222.86,342.84 L223.05,343.05 L223.23,343.26 L223.42,343.46 L223.60,343.66 L223.78,343.86 L223.97,344.04 L224.15,344.22 L224.33,344.39 L224.52,344.55 L224.60,344.62 M228.21,346.68 L228.30,346.71 L228.47,346.78 L228.65,346.86 L228.82,346.93 L229.00,347.00 L229.09,347.03 M233.10,348.10 L233.30,348.21 L233.51,348.34 L233.72,348.48 L233.95,348.63 L234.18,348.80 L234.42,348.97 L234.67,349.15 L234.91,349.34 L235.16,349.53 L235.41,349.72 L235.66,349.92 L235.91,350.12 L236.15,350.32 L236.39,350.51 L236.62,350.70 L236.84,350.89 L237.06,351.06 L237.26,351.23 L237.45,351.39 L237.63,351.54 L237.80,351.68 L237.95,351.80 L238.08,351.91 L238.20,352.00 L238.20,352.00"/>
<path d="M420.10,367.10 C420.28,366.08 420.73,363.33 421.20,361.00 C421.67,358.67 422.33,355.45 422.90,353.10 C423.47,350.75 423.95,348.68 424.60,346.90 C425.25,345.12 425.97,343.52 426.80,342.40 C427.63,341.28 428.57,340.85 429.60,340.20 C430.63,339.55 431.83,339.13 433.00,338.50 C434.17,337.87 435.63,336.63 436.60,336.40 C437.57,336.17 437.95,336.65 438.80,337.10 C439.65,337.55 440.80,338.35 441.70,339.10 C442.60,339.85 443.38,340.92 444.20,341.60 C445.02,342.28 445.83,343.05 446.60,343.20 C447.37,343.35 448.10,343.27 448.80,342.50 C449.50,341.73 450.10,340.35 450.80,338.60 C451.50,336.85 452.22,334.55 453.00,332.00 C453.78,329.45 454.68,326.40 455.50,323.30 C456.32,320.20 457.18,316.28 457.90,313.40 C458.62,310.52 459.18,308.47 459.80,306.00 C460.42,303.53 460.98,300.55 461.60,298.60 C462.22,296.65 462.88,295.28 463.50,294.30 C464.12,293.32 464.62,292.75 465.30,292.70 C465.98,292.65 466.77,293.12 467.60,294.00 C468.43,294.88 469.37,296.77 470.30,298.00 C471.23,299.23 472.33,300.85 473.20,301.40 C474.07,301.95 474.87,301.53 475.50,301.30 C476.13,301.07 476.20,300.50 477.00,300.00 C477.80,299.50 479.18,298.50 480.30,298.30 C481.42,298.10 482.57,298.80 483.70,298.80 C484.83,298.80 485.98,299.13 487.10,298.30 C488.22,297.47 489.37,295.40 490.40,293.80 C491.43,292.20 492.35,290.12 493.30,288.70 C494.25,287.28 495.40,285.95 496.10,285.30 C496.80,284.65 496.92,284.52 497.50,284.80 C498.08,285.08 498.88,285.97 499.60,287.00 C500.32,288.03 500.97,289.50 501.80,291.00 C502.63,292.50 503.57,294.50 504.60,296.00 C505.63,297.50 506.88,299.15 508.00,300.00 C509.12,300.85 510.08,300.92 511.30,301.10 C512.52,301.28 513.98,301.10 515.30,301.10 C516.62,301.10 517.98,300.92 519.20,301.10 C520.42,301.28 521.47,301.73 522.60,302.20 C523.73,302.67 524.88,303.53 526.00,303.90 C527.12,304.27 528.22,304.97 529.30,304.40 C530.38,303.83 531.53,302.00 532.50,300.50 C533.47,299.00 534.20,296.98 535.10,295.40 C536.00,293.82 536.97,291.93 537.90,291.00 C538.83,290.07 539.68,289.80 540.70,289.80 C541.72,289.80 542.88,290.77 544.00,291.00 C545.12,291.23 546.27,291.48 547.40,291.20 C548.53,290.92 549.77,289.90 550.80,289.30 C551.83,288.70 552.57,288.07 553.60,287.60 C554.63,287.13 555.97,286.97 557.00,286.50 C558.03,286.03 558.97,285.47 559.80,284.80 C560.63,284.13 561.25,283.12 562.00,282.50 C562.75,281.88 563.92,281.33 564.30,281.10"/>
<path d="M420.10,351.60 L420.14,351.46 L420.17,351.30 L420.22,351.13 L420.26,350.94 L420.31,350.74 L420.37,350.52 L420.42,350.28 L420.48,350.04 L420.54,349.79 L420.61,349.52 L420.67,349.25 L420.74,348.97 L420.82,348.68 L420.89,348.39 L420.96,348.09 L421.04,347.79 L421.12,347.49 L421.20,347.19 L421.28,346.88 L421.36,346.58 L421.45,346.28 L421.53,345.98 L421.61,345.69 L421.70,345.40 L421.77,345.17 M424.20,337.90 L424.29,337.69 L424.39,337.49 L424.48,337.30 L424.56,337.13 L424.65,336.96 L424.73,336.80 L424.82,336.66 L424.90,336.52 L424.98,336.39 L425.06,336.26 L425.14,336.15 L425.23,336.04 L425.31,335.93 L425.39,335.83 L425.47,335.74 L425.56,335.65 L425.64,335.56 L425.73,335.48 L425.82,335.39 L425.91,335.31 L426.00,335.24 L426.10,335.16 L426.20,335.08 L426.30,335.00 L426.41,334.92 L426.51,334.85 L426.62,334.78 L426.73,334.72 L426.85,334.65 L426.96,334.60 L427.08,334.54 L427.19,334.49 L427.31,334.45 L427.43,334.40 L427.55,334.36 L427.67,334.32 L427.80,334.29 L427.92,334.26 L428.05,334.23 L428.17,334.21 L428.30,334.19 L428.43,334.17 L428.56,334.15 L428.68,334.13 L428.81,334.12 L428.88,334.12 M435.90,336.20 L436.03,336.26 L436.17,336.33 L436.30,336.39 L436.43,336.45 L436.57,336.52 L436.70,336.58 L436.83,336.65 L436.96,336.71 L437.08,336.78 L437.21,336.85 L437.34,336.91 L437.47,336.98 L437.60,337.05 L437.72,337.12 L437.85,337.18 L437.98,337.25 L438.10,337.32 L438.23,337.39 L438.36,337.46 L438.49,337.53 L438.61,337.59 L438.74,337.66 L438.87,337.73 L439.00,337.80 L439.13,337.87 L439.26,337.95 L439.39,338.03 L439.51,338.11 L439.64,338.19 L439.77,338.28 L439.90,338.37 L440.02,338.46 L440.15,338.55 L440.28,338.64 L440.40,338.73 L440.53,338.81 L440.66,338.90 L440.79,338.98 L440.92,339.06 L441.04,339.13 L441.17,339.20 L441.30,339.26 L441.43,339.32 L441.57,339.37 L441.70,339.42 L441.83,339.45 L441.97,339.48 L442.10,339.50 L442.24,339.51 L442.37,339.52 L442.40,339.52 M449.07,334.81 L449.20,334.60 L449.33,334.39 L449.45,334.18 L449.57,333.96 L449.69,333.74 L449.81,333.52 L449.92,333.29 L450.04,333.06 L450.14,332.82 L450.25,332.58 L450.36,332.34 L450.46,332.09 L450.56,331.84 L450.66,331.59 L450.76,331.33 L450.86,331.07 L450.96,330.81 L451.05,330.54 L451.15,330.28 L451.24,330.00 L451.33,329.73 L451.42,329.45 L451.52,329.17 L451.61,328.89 L451.70,328.60 L451.73,328.50 M453.60,320.80 L453.68,320.50 L453.76,320.20 L453.85,319.91 L453.93,319.62 L454.01,319.33 L454.10,319.04 L454.19,318.76 L454.27,318.48 L454.36,318.20 L454.45,317.93 L454.53,317.65 L454.62,317.38 L454.70,317.10 L454.79,316.83 L454.87,316.55 L454.95,316.27 L455.03,316.00 L455.10,315.72 L455.18,315.44 L455.25,315.16 L455.32,314.87 L455.38,314.58 L455.44,314.32 M456.30,306.60 L456.35,306.29 L456.41,305.98 L456.46,305.68 L456.52,305.37 L456.59,305.06 L456.65,304.75 L456.72,304.44 L456.79,304.13 L456.85,303.82 L456.93,303.52 L457.00,303.21 L457.07,302.90 L457.14,302.59 L457.21,302.28 L457.29,301.97 L457.36,301.67 L457.43,301.36 L457.50,301.05 L457.57,300.74 L457.64,300.43 L457.71,300.12 L457.77,299.82 L457.79,299.76 M459.20,291.80 L459.25,291.51 L459.30,291.21 L459.35,290.92 L459.40,290.63 L459.45,290.35 L459.50,290.06 L459.55,289.78 L459.60,289.50 L459.65,289.21 L459.70,288.93 L459.75,288.65 L459.79,288.38 L459.84,288.10 L459.89,287.82 L459.94,287.54 L459.99,287.26 L460.04,286.98 L460.09,286.70 L460.14,286.42 L460.19,286.14 L460.24,285.86 L460.29,285.57 L460.33,285.38 M461.80,278.00 L461.89,277.71 L461.99,277.41 L462.09,277.11 L462.19,276.80 L462.30,276.49 L462.42,276.17 L462.53,275.85 L462.65,275.53 L462.77,275.22 L462.90,274.90 L463.02,274.58 L463.15,274.28 L463.28,273.97 L463.40,273.67 L463.53,273.38 L463.66,273.10 L463.79,272.83 L463.89,272.62 M469.10,271.30 L469.18,271.38 L469.26,271.48 L469.33,271.58 L469.40,271.68 L469.46,271.80 L469.53,271.91 L469.59,272.04 L469.65,272.16 L469.71,272.29 L469.76,272.43 L469.82,272.56 L469.88,272.69 L469.94,272.83 L470.00,272.96 L470.06,273.10 L470.13,273.23 L470.20,273.35 L470.27,273.48 L470.35,273.60 L470.43,273.71 L470.51,273.82 L470.60,273.92 L470.70,274.01 L470.80,274.10 L470.91,274.18 L471.02,274.26 L471.14,274.35 L471.27,274.43 L471.40,274.51 L471.53,274.60 L471.67,274.67 L471.81,274.75 L471.95,274.83 L472.10,274.90 L472.25,274.96 L472.40,275.02 L472.55,275.08 L472.70,275.13 L472.86,275.18 L473.01,275.21 L473.16,275.25 L473.32,275.27 L473.47,275.28 L473.62,275.29 L473.77,275.28 L473.91,275.26 L474.06,275.24 L474.20,275.20 L474.34,275.15 L474.38,275.13 M480.30,269.40 L480.43,269.37 L480.56,269.34 L480.70,269.33 L480.84,269.33 L480.98,269.33 L481.12,269.34 L481.27,269.36 L481.41,269.38 L481.56,269.41 L481.70,269.45 L481.85,269.49 L482.00,269.53 L482.15,269.58 L482.30,269.63 L482.44,269.68 L482.59,269.74 L482.73,269.80 L482.88,269.86 L483.02,269.92 L483.16,269.98 L483.30,270.03 L483.44,270.09 L483.57,270.15 L483.70,270.20 L483.83,270.26 L483.96,270.32 L484.08,270.40 L484.20,270.48 L484.33,270.57 L484.45,270.67 L484.57,270.77 L484.69,270.87 L484.81,270.97 L484.92,271.08 L485.04,271.18 L485.16,271.28 L485.27,271.38 L485.38,271.47 L485.50,271.56 L485.61,271.64 L485.72,271.71 L485.84,271.78 L485.95,271.83 L486.06,271.87 L486.17,271.90 L486.20,271.91 M491.00,266.20 L491.08,266.08 L491.15,265.96 L491.22,265.85 L491.29,265.73 L491.36,265.61 L491.43,265.49 L491.49,265.37 L491.56,265.24 L491.62,265.12 L491.68,265.00 L491.75,264.88 L491.81,264.76 L491.88,264.64 L491.94,264.52 L492.01,264.41 L492.08,264.29 L492.15,264.17 L492.22,264.06 L492.29,263.94 L492.37,263.83 L492.45,263.72 L492.53,263.61 L492.61,263.51 L492.70,263.40 L492.79,263.29 L492.89,263.18 L492.99,263.07 L493.09,262.95 L493.19,262.84 L493.30,262.72 L493.41,262.60 L493.52,262.48 L493.64,262.36 L493.75,262.25 L493.87,262.14 L493.98,262.02 L494.10,261.92 L494.21,261.82 L494.33,261.72 L494.44,261.63 L494.56,261.55 L494.67,261.47 L494.78,261.40 L494.89,261.34 L495.00,261.29 L495.10,261.25 L495.20,261.22 L495.30,261.20 L495.40,261.19 L495.49,261.19 L495.58,261.19 L495.67,261.20 L495.73,261.21 M499.00,268.50 L499.07,268.76 L499.14,269.02 L499.21,269.29 L499.28,269.55 L499.35,269.82 L499.41,270.09 L499.48,270.36 L499.55,270.64 L499.62,270.91 L499.68,271.19 L499.75,271.47 L499.82,271.75 L499.89,272.03 L499.96,272.32 L500.03,272.60 L500.10,272.89 L500.17,273.17 L500.24,273.46 L500.31,273.75 L500.39,274.04 L500.46,274.33 L500.54,274.62 L500.62,274.91 L500.66,275.04 M502.90,282.50 L502.99,282.78 L503.09,283.07 L503.18,283.37 L503.27,283.67 L503.36,283.96 L503.46,284.27 L503.55,284.57 L503.64,284.87 L503.73,285.16 L503.83,285.46 L503.92,285.75 L504.01,286.04 L504.11,286.32 L504.20,286.59 L504.30,286.86 L504.39,287.11 L504.49,287.36 L504.59,287.59 L504.69,287.81 L504.79,288.02 L504.89,288.21 L504.94,288.31 M511.30,287.60 L511.41,287.55 L511.53,287.49 L511.63,287.43 L511.74,287.36 L511.84,287.29 L511.93,287.23 L512.03,287.16 L512.12,287.09 L512.21,287.02 L512.30,286.95 L512.39,286.89 L512.48,286.83 L512.57,286.77 L512.66,286.71 L512.74,286.66 L512.83,286.61 L512.92,286.57 L513.01,286.54 L513.11,286.51 L513.20,286.49 L513.30,286.48 L513.39,286.48 L513.50,286.48 L513.60,286.50 L513.71,286.52 L513.81,286.55 L513.92,286.58 L514.03,286.61 L514.13,286.64 L514.24,286.68 L514.35,286.73 L514.46,286.78 L514.57,286.83 L514.68,286.89 L514.79,286.96 L514.90,287.04 L515.01,287.12 L515.13,287.21 L515.25,287.31 L515.37,287.42 L515.49,287.54 L515.61,287.67 L515.74,287.81 L515.86,287.97 L515.99,288.13 L516.13,288.31 L516.26,288.50 L516.40,288.70 L516.54,288.92 L516.69,289.18 L516.77,289.32 M520.30,296.60 L520.43,296.80 L520.55,296.99 L520.66,297.16 L520.77,297.32 L520.88,297.46 L520.98,297.59 L521.07,297.71 L521.17,297.81 L521.26,297.91 L521.35,298.00 L521.43,298.08 L521.52,298.16 L521.60,298.22 L521.69,298.29 L521.77,298.34 L521.86,298.40 L521.94,298.45 L522.03,298.50 L522.12,298.54 L522.21,298.59 L522.30,298.64 L522.40,298.69 L522.50,298.74 L522.60,298.80 L522.71,298.86 L522.82,298.92 L522.93,298.98 L523.04,299.04 L523.15,299.10 L523.27,299.16 L523.39,299.21 L523.50,299.27 L523.62,299.32 L523.74,299.37 L523.86,299.41 L523.98,299.45 L524.10,299.48 L524.22,299.51 L524.34,299.54 L524.46,299.56 L524.58,299.57 L524.70,299.57 L524.82,299.56 L524.94,299.55 L525.06,299.53 L525.17,299.50 L525.29,299.45 L525.40,299.40 L525.51,299.33 L525.62,299.25 L525.71,299.19 M530.40,293.20 L530.50,293.11 L530.61,293.02 L530.71,292.93 L530.82,292.85 L530.92,292.77 L531.03,292.70 L531.13,292.62 L531.24,292.55 L531.35,292.48 L531.45,292.41 L531.56,292.35 L531.67,292.28 L531.78,292.22 L531.89,292.15 L531.99,292.09 L532.10,292.03 L532.21,291.96 L532.32,291.90 L532.44,291.84 L532.55,291.77 L532.66,291.70 L532.77,291.64 L532.89,291.57 L533.00,291.50 L533.12,291.43 L533.23,291.36 L533.35,291.29 L533.47,291.22 L533.59,291.16 L533.71,291.09 L533.83,291.02 L533.96,290.96 L534.08,290.89 L534.20,290.82 L534.33,290.75 L534.45,290.69 L534.57,290.62 L534.70,290.55 L534.82,290.48 L534.94,290.41 L535.07,290.34 L535.19,290.27 L535.31,290.19 L535.43,290.12 L535.55,290.04 L535.67,289.96 L535.78,289.88 L535.90,289.80 L536.01,289.72 L536.12,289.63 L536.15,289.61 M541.80,284.20 L541.94,284.01 L542.08,283.82 L542.21,283.62 L542.35,283.41 L542.48,283.20 L542.62,282.99 L542.75,282.77 L542.89,282.54 L543.02,282.32 L543.15,282.09 L543.29,281.85 L543.43,281.61 L543.56,281.37 L543.70,281.13 L543.84,280.88 L543.98,280.63 L544.12,280.38 L544.27,280.13 L544.42,279.88 L544.57,279.62 L544.72,279.37 L544.88,279.11 L545.04,278.86 L545.20,278.60 L545.33,278.40 M549.70,271.90 L549.85,271.73 L549.99,271.58 L550.13,271.44 L550.26,271.32 L550.39,271.20 L550.51,271.10 L550.63,271.01 L550.74,270.93 L550.85,270.86 L550.96,270.79 L551.07,270.73 L551.18,270.68 L551.28,270.63 L551.38,270.59 L551.49,270.55 L551.59,270.51 L551.70,270.48 L551.80,270.44 L551.91,270.41 L552.02,270.37 L552.14,270.34 L552.25,270.29 L552.38,270.25 L552.50,270.20 L552.63,270.15 L552.76,270.11 L552.89,270.07 L553.02,270.03 L553.16,270.00 L553.29,269.97 L553.43,269.95 L553.57,269.93 L553.71,269.90 L553.84,269.88 L553.98,269.86 L554.12,269.84 L554.27,269.82 L554.41,269.80 L554.55,269.78 L554.69,269.75 L554.83,269.72 L554.97,269.69 L555.11,269.66 L555.25,269.62 L555.39,269.57 L555.53,269.52 L555.66,269.46 L555.80,269.40 L555.83,269.38 M562.00,264.60 L562.11,264.55 L562.22,264.52 L562.34,264.49 L562.45,264.46 L562.56,264.44 L562.68,264.43 L562.79,264.42 L562.90,264.42 L563.01,264.42 L563.12,264.43 L563.23,264.44 L563.34,264.45 L563.44,264.46 L563.54,264.48 L563.64,264.49 L563.73,264.51 L563.82,264.53 L563.90,264.54 L563.98,264.56 L564.06,264.57 L564.13,264.58 L564.19,264.59 L564.25,264.60 L564.30,264.60 L564.30,264.60"/>
<path d="M420.10,394.90 L420.14,394.75 L420.18,394.57 L420.22,394.37 L420.28,394.15 L420.33,393.91 L420.39,393.65 L420.46,393.38 L420.52,393.09 L420.59,392.79 L420.66,392.48 L420.74,392.17 L420.81,391.84 L420.89,391.52 L420.97,391.19 L421.04,390.86 L421.12,390.53 L421.20,390.21 L421.28,389.89 L421.35,389.58 L421.43,389.28 L421.50,388.99 L421.57,388.71 L421.64,388.45 L421.65,388.38 M422.90,384.09 L422.91,384.06 L422.97,383.88 L423.03,383.69 L423.10,383.50 L423.17,383.31 L423.23,383.13 M424.90,379.00 L424.99,378.87 L425.08,378.75 L425.17,378.64 L425.27,378.53 L425.36,378.43 L425.46,378.34 L425.55,378.25 L425.65,378.16 L425.75,378.08 L425.85,378.01 L425.95,377.94 L426.06,377.87 L426.16,377.81 L426.27,377.75 L426.37,377.69 L426.48,377.64 L426.59,377.59 L426.70,377.54 L426.81,377.50 L426.93,377.45 L427.04,377.41 L427.16,377.37 L427.28,377.34 L427.40,377.30 L427.52,377.27 L427.64,377.25 L427.77,377.24 L427.90,377.24 L428.02,377.25 L428.15,377.26 L428.28,377.28 L428.41,377.30 L428.55,377.32 L428.68,377.35 L428.82,377.38 L428.96,377.41 L429.09,377.43 L429.23,377.45 L429.38,377.47 L429.52,377.49 L429.66,377.50 L429.81,377.50 L429.95,377.49 L430.10,377.48 L430.25,377.45 L430.40,377.41 L430.55,377.36 L430.70,377.30 L430.76,377.27 M434.02,374.42 L434.03,374.41 L434.20,374.27 L434.37,374.13 L434.53,374.01 L434.70,373.90 L434.81,373.82 M438.60,372.20 L438.76,372.30 L438.93,372.42 L439.10,372.57 L439.27,372.74 L439.44,372.93 L439.61,373.13 L439.79,373.36 L439.96,373.60 L440.13,373.85 L440.31,374.11 L440.48,374.38 L440.65,374.66 L440.82,374.95 L440.99,375.24 L441.15,375.53 L441.32,375.81 L441.48,376.10 L441.64,376.39 L441.79,376.66 L441.94,376.93 L442.09,377.19 L442.23,377.44 L442.35,377.64 M444.25,381.66 L444.34,381.81 L444.45,381.97 L444.56,382.12 L444.67,382.26 L444.80,382.40 L444.86,382.46 M448.70,384.30 L448.89,384.25 L449.09,384.19 L449.29,384.10 L449.50,384.01 L449.72,383.89 L449.94,383.77 L450.16,383.63 L450.39,383.48 L450.61,383.32 L450.84,383.15 L451.07,382.98 L451.30,382.79 L451.53,382.61 L451.76,382.42 L451.98,382.23 L452.20,382.03 L452.42,381.84 L452.64,381.65 L452.85,381.46 L453.05,381.28 L453.25,381.10 L453.44,380.92 L453.62,380.76 L453.80,380.60 L453.87,380.54 M456.70,377.32 L456.80,377.17 L456.90,377.00 L457.00,376.83 L457.10,376.66 L457.19,376.50 L457.20,376.48 M458.80,372.50 L458.90,372.26 L459.01,372.01 L459.11,371.74 L459.23,371.47 L459.34,371.19 L459.46,370.90 L459.58,370.61 L459.70,370.31 L459.83,370.00 L459.95,369.70 L460.08,369.39 L460.21,369.08 L460.33,368.77 L460.46,368.47 L460.58,368.16 L460.71,367.86 L460.83,367.56 L460.95,367.27 L461.07,366.99 L461.18,366.71 L461.29,366.44 L461.33,366.35 M462.99,362.24 L463.05,362.12 L463.13,361.96 L463.22,361.81 L463.31,361.66 L463.40,361.50 L463.48,361.36 M466.20,358.20 L466.36,358.26 L466.52,358.35 L466.69,358.47 L466.87,358.61 L467.06,358.78 L467.25,358.97 L467.44,359.17 L467.64,359.40 L467.84,359.64 L468.04,359.89 L468.24,360.16 L468.45,360.43 L468.66,360.71 L468.86,360.99 L469.06,361.28 L469.26,361.57 L469.46,361.85 L469.65,362.13 L469.84,362.40 L470.03,362.67 L470.21,362.92 L470.38,363.16 L470.39,363.18 M472.67,366.90 L472.76,367.04 L472.87,367.19 L472.99,367.33 L473.11,367.46 L473.23,367.58 L473.32,367.66 M477.40,368.30 L477.59,368.20 L477.78,368.08 L477.98,367.94 L478.19,367.78 L478.39,367.61 L478.60,367.42 L478.82,367.21 L479.03,367.00 L479.25,366.78 L479.47,366.55 L479.69,366.31 L479.91,366.07 L480.13,365.83 L480.36,365.59 L480.58,365.36 L480.80,365.12 L481.02,364.89 L481.24,364.67 L481.46,364.46 L481.67,364.26 L481.88,364.07 L482.09,363.90 L482.16,363.84 M486.22,362.37 L486.29,362.35 L486.47,362.30 L486.65,362.24 L486.82,362.17 L487.00,362.10 L487.15,362.03 M490.90,359.90 L491.06,359.71 L491.23,359.51 L491.39,359.29 L491.56,359.05 L491.72,358.80 L491.89,358.54 L492.05,358.26 L492.22,357.98 L492.38,357.69 L492.55,357.40 L492.72,357.10 L492.88,356.80 L493.05,356.50 L493.21,356.20 L493.37,355.91 L493.54,355.62 L493.70,355.34 L493.86,355.06 L494.02,354.80 L494.18,354.55 L494.34,354.31 L494.37,354.27 M497.67,351.47 L497.67,351.47 L497.81,351.46 L497.94,351.46 L498.07,351.47 L498.20,351.50 L498.33,351.54 L498.45,351.60 L498.57,351.68 L498.62,351.71 M501.00,355.40 L501.13,355.63 L501.26,355.87 L501.40,356.13 L501.54,356.40 L501.68,356.68 L501.82,356.97 L501.97,357.26 L502.11,357.57 L502.26,357.87 L502.40,358.19 L502.55,358.50 L502.70,358.81 L502.85,359.13 L503.00,359.44 L503.14,359.74 L503.29,360.04 L503.43,360.34 L503.58,360.63 L503.72,360.90 L503.86,361.17 L503.93,361.29 M506.56,364.75 L506.64,364.79 L506.77,364.85 L506.91,364.91 L507.05,364.96 L507.20,365.00 L507.35,365.03 L507.50,365.05 M511.70,363.90 L511.92,363.83 L512.14,363.75 L512.36,363.67 L512.59,363.59 L512.83,363.51 L513.07,363.42 L513.31,363.33 L513.56,363.24 L513.80,363.15 L514.05,363.05 L514.30,362.95 L514.55,362.86 L514.80,362.76 L515.05,362.65 L515.30,362.55 L515.54,362.45 L515.79,362.34 L516.03,362.24 L516.27,362.13 L516.51,362.03 L516.74,361.92 L516.96,361.81 L517.18,361.71 L517.40,361.60 L517.61,361.49 L517.63,361.48 M521.19,359.13 L521.35,359.04 L521.53,358.95 L521.72,358.87 L521.90,358.80 L522.07,358.74 M526.30,358.30 L526.45,358.31 L526.59,358.33 L526.73,358.35 L526.87,358.38 L527.00,358.42 L527.13,358.46 L527.26,358.50 L527.38,358.55 L527.50,358.60 L527.62,358.65 L527.74,358.71 L527.85,358.76 L527.96,358.81 L528.07,358.85 L528.19,358.90 L528.30,358.94 L528.41,358.97 L528.52,359.00 L528.63,359.02 L528.74,359.04 L528.85,359.04 L528.97,359.04 L529.08,359.03 L529.20,359.00 L529.32,358.97 L529.44,358.93 L529.56,358.88 L529.68,358.83 L529.80,358.77 L529.93,358.71 L530.05,358.65 L530.17,358.57 L530.29,358.50 L530.41,358.42 L530.54,358.33 L530.66,358.24 L530.78,358.14 L530.90,358.04 L531.01,357.94 L531.13,357.83 L531.24,357.71 L531.36,357.59 L531.47,357.47 L531.58,357.34 L531.69,357.21 L531.79,357.08 L531.90,356.94 L531.98,356.83 M533.75,352.79 L533.79,352.70 L533.86,352.49 L533.93,352.29 L534.00,352.10 L534.07,351.91 L534.09,351.85 M535.30,347.60 L535.38,347.36 L535.46,347.11 L535.54,346.85 L535.63,346.58 L535.72,346.30 L535.82,346.02 L535.92,345.73 L536.01,345.44 L536.12,345.14 L536.22,344.84 L536.32,344.54 L536.43,344.23 L536.53,343.93 L536.63,343.62 L536.74,343.32 L536.84,343.02 L536.94,342.72 L537.04,342.43 L537.14,342.14 L537.24,341.86 L537.33,341.58 L537.43,341.31 L537.48,341.16 M538.83,336.84 L538.88,336.71 L538.96,336.52 L539.04,336.34 L539.12,336.15 L539.21,335.98 L539.25,335.89 M542.10,332.40 L542.20,332.31 L542.30,332.23 L542.39,332.15 L542.48,332.07 L542.57,332.00 L542.65,331.93 L542.73,331.87 L542.81,331.81 L542.89,331.76 L542.97,331.71 L543.05,331.66 L543.12,331.62 L543.20,331.58 L543.29,331.55 L543.37,331.52 L543.46,331.49 L543.54,331.47 L543.64,331.45 L543.73,331.43 L543.84,331.42 L543.94,331.41 L544.06,331.40 L544.17,331.40 L544.30,331.40 L544.43,331.41 L544.57,331.42 L544.71,331.44 L544.85,331.47 L545.00,331.50 L545.15,331.54 L545.31,331.59 L545.47,331.63 L545.63,331.69 L545.80,331.74 L545.97,331.80 L546.14,331.86 L546.31,331.92 L546.49,331.98 L546.66,332.04 L546.84,332.10 L547.02,332.16 L547.20,332.22 L547.38,332.27 L547.57,332.33 L547.75,332.38 L547.93,332.42 L548.12,332.46 L548.17,332.47 M552.49,332.98 L552.50,332.98 L552.70,332.99 L552.90,333.00 L553.10,333.00 L553.30,333.00 L553.47,333.01 M557.70,332.60 L557.88,332.46 L558.06,332.31 L558.24,332.14 L558.42,331.95 L558.59,331.74 L558.77,331.53 L558.95,331.30 L559.13,331.06 L559.30,330.81 L559.48,330.55 L559.65,330.29 L559.82,330.02 L559.99,329.75 L560.16,329.48 L560.32,329.20 L560.49,328.93 L560.65,328.67 L560.81,328.40 L560.96,328.15 L561.12,327.90 L561.27,327.65 L561.41,327.42 L561.52,327.26 M564.03,323.64 L564.04,323.63 L564.12,323.50 L564.20,323.39 L564.27,323.28 L564.34,323.19 L564.40,323.10 L564.40,323.10"/>
</g>
<g>
<text x="43.6" y="10.9" font-size="12.2" textLength="262.0" lengthAdjust="spacingAndGlyphs">a<tspan class="p">)</tspan> Brightness Temperature at 17 GHz</text>
<text x="369.4" y="10.9" font-size="12.2" textLength="262.0" lengthAdjust="spacingAndGlyphs">b<tspan class="p">)</tspan> Brightness Temperature at 34 GHz</text>
<text x="59.0" y="238.3" font-size="12.2" textLength="231.2" lengthAdjust="spacingAndGlyphs">c<tspan class="p">)</tspan> Polarization Degree at 17 GHz</text>
<text x="440.3" y="238.3" font-size="12.2" textLength="120.0" lengthAdjust="spacingAndGlyphs">d<tspan class="p">)</tspan> Spectral Index</text>
<text x="78.01" y="200.3" font-size="11.2" textLength="31.0" lengthAdjust="spacingAndGlyphs" text-anchor="middle">00:15</text>
<text x="126.23" y="200.3" font-size="11.2" textLength="31.0" lengthAdjust="spacingAndGlyphs" text-anchor="middle">00:16</text>
<text x="174.45" y="200.3" font-size="11.2" textLength="31.0" lengthAdjust="spacingAndGlyphs" text-anchor="middle">00:17</text>
<text x="222.67" y="200.3" font-size="11.2" textLength="31.0" lengthAdjust="spacingAndGlyphs" text-anchor="middle">00:18</text>
<text x="270.89" y="200.3" font-size="11.2" textLength="31.0" lengthAdjust="spacingAndGlyphs" text-anchor="middle">00:19</text>
<text x="174.35" y="215.1" font-size="11.2" textLength="188.6" lengthAdjust="spacingAndGlyphs" text-anchor="middle">Start Time <tspan class="p">(</tspan>23<tspan class="h">-</tspan>Oct<tspan class="h">-</tspan>01 00:14:30<tspan class="p">)</tspan></text>
<text x="403.91" y="200.3" font-size="11.2" textLength="31.0" lengthAdjust="spacingAndGlyphs" text-anchor="middle">00:15</text>
<text x="452.13" y="200.3" font-size="11.2" textLength="31.0" lengthAdjust="spacingAndGlyphs" text-anchor="middle">00:16</text>
<text x="500.35" y="200.3" font-size="11.2" textLength="31.0" lengthAdjust="spacingAndGlyphs" text-anchor="middle">00:17</text>
<text x="548.57" y="200.3" font-size="11.2" textLength="31.0" lengthAdjust="spacingAndGlyphs" text-anchor="middle">00:18</text>
<text x="596.79" y="200.3" font-size="11.2" textLength="31.0" lengthAdjust="spacingAndGlyphs" text-anchor="middle">00:19</text>
<text x="500.25" y="215.1" font-size="11.2" textLength="188.6" lengthAdjust="spacingAndGlyphs" text-anchor="middle">Start Time <tspan class="p">(</tspan>23<tspan class="h">-</tspan>Oct<tspan class="h">-</tspan>01 00:14:30<tspan class="p">)</tspan></text>
<text x="78.01" y="427.5" font-size="11.2" textLength="31.0" lengthAdjust="spacingAndGlyphs" text-anchor="middle">00:15</text>
<text x="126.23" y="427.5" font-size="11.2" textLength="31.0" lengthAdjust="spacingAndGlyphs" text-anchor="middle">00:16</text>
<text x="174.45" y="427.5" font-size="11.2" textLength="31.0" lengthAdjust="spacingAndGlyphs" text-anchor="middle">00:17</text>
<text x="222.67" y="427.5" font-size="11.2" textLength="31.0" lengthAdjust="spacingAndGlyphs" text-anchor="middle">00:18</text>
<text x="270.89" y="427.5" font-size="11.2" textLength="31.0" lengthAdjust="spacingAndGlyphs" text-anchor="middle">00:19</text>
<text x="174.35" y="442.3" font-size="11.2" textLength="188.6" lengthAdjust="spacingAndGlyphs" text-anchor="middle">Start Time <tspan class="p">(</tspan>23<tspan class="h">-</tspan>Oct<tspan class="h">-</tspan>01 00:14:30<tspan class="p">)</tspan></text>
<text x="403.91" y="427.5" font-size="11.2" textLength="31.0" lengthAdjust="spacingAndGlyphs" text-anchor="middle">00:15</text>
<text x="452.13" y="427.5" font-size="11.2" textLength="31.0" lengthAdjust="spacingAndGlyphs" text-anchor="middle">00:16</text>
<text x="500.35" y="427.5" font-size="11.2" textLength="31.0" lengthAdjust="spacingAndGlyphs" text-anchor="middle">00:17</text>
<text x="548.57" y="427.5" font-size="11.2" textLength="31.0" lengthAdjust="spacingAndGlyphs" text-anchor="middle">00:18</text>
<text x="596.79" y="427.5" font-size="11.2" textLength="31.0" lengthAdjust="spacingAndGlyphs" text-anchor="middle">00:19</text>
<text x="500.25" y="442.3" font-size="11.2" textLength="188.6" lengthAdjust="spacingAndGlyphs" text-anchor="middle">Start Time <tspan class="p">(</tspan>23<tspan class="h">-</tspan>Oct<tspan class="h">-</tspan>01 00:14:30<tspan class="p">)</tspan></text>
<text x="9.2" y="178.7" font-size="11.0" textLength="152.9" lengthAdjust="spacingAndGlyphs" transform="rotate(-90 9.2 178.7)">Brightness Temperature <tspan class="p">(</tspan>K<tspan class="p">)</tspan></text>
<text x="325.1" y="179.0" font-size="11.0" textLength="152.8" lengthAdjust="spacingAndGlyphs" transform="rotate(-90 325.1 179.0)">Brightness Temperature <tspan class="p">(</tspan>K<tspan class="p">)</tspan></text>
<text x="24.2" y="395.3" font-size="11.0" textLength="129.9" lengthAdjust="spacingAndGlyphs" transform="rotate(-90 24.2 395.3)">Polarization Degree <tspan class="p">(</tspan>%<tspan class="p">)</tspan></text>
<text x="341.3" y="370.3" font-size="11.0" textLength="78.9" lengthAdjust="spacingAndGlyphs" transform="rotate(-90 341.3 370.3)">Spectral Index</text>
<text x="45.8" y="24.8" font-size="10.9" textLength="27.8" lengthAdjust="spacingAndGlyphs" text-anchor="end">8<tspan class="x">×</tspan>10</text>
<text x="46.3" y="19.4" font-size="7.0" class="sup">6</text>
<text x="45.8" y="64.7" font-size="10.9" textLength="27.8" lengthAdjust="spacingAndGlyphs" text-anchor="end">6<tspan class="x">×</tspan>10</text>
<text x="46.3" y="59.300000000000004" font-size="7.0" class="sup">6</text>
<text x="45.8" y="107.1" font-size="10.9" textLength="27.8" lengthAdjust="spacingAndGlyphs" text-anchor="end">4<tspan class="x">×</tspan>10</text>
<text x="46.3" y="101.69999999999999" font-size="7.0" class="sup">6</text>
<text x="45.8" y="149.9" font-size="10.9" textLength="27.8" lengthAdjust="spacingAndGlyphs" text-anchor="end">2<tspan class="x">×</tspan>10</text>
<text x="46.3" y="144.5" font-size="7.0" class="sup">6</text>
<text x="50.8" y="188.6" font-size="10.9" textLength="7.0" lengthAdjust="spacingAndGlyphs" text-anchor="end">0</text>
<text x="372.79999999999995" y="24.8" font-size="10.9" textLength="39.2" lengthAdjust="spacingAndGlyphs" text-anchor="end">1.5<tspan class="x">×</tspan>10</text>
<text x="373.29999999999995" y="19.4" font-size="7.0" class="sup">6</text>
<text x="372.79999999999995" y="78.6" font-size="10.9" textLength="39.2" lengthAdjust="spacingAndGlyphs" text-anchor="end">1.0<tspan class="x">×</tspan>10</text>
<text x="373.29999999999995" y="73.19999999999999" font-size="7.0" class="sup">6</text>
<text x="372.79999999999995" y="135.5" font-size="10.9" textLength="40.0" lengthAdjust="spacingAndGlyphs" text-anchor="end">5.0<tspan class="x">×</tspan>10</text>
<text x="373.29999999999995" y="130.1" font-size="7.0" class="sup">5</text>
<text x="376.7" y="188.5" font-size="10.9" textLength="6.8" lengthAdjust="spacingAndGlyphs" text-anchor="end">0</text>
<text x="50.6" y="252.1" font-size="10.9" textLength="18.0" lengthAdjust="spacingAndGlyphs" text-anchor="end">0.6</text>
<text x="50.6" y="306.1" font-size="10.9" textLength="18.0" lengthAdjust="spacingAndGlyphs" text-anchor="end">0.4</text>
<text x="50.6" y="363.0" font-size="10.9" textLength="18.0" lengthAdjust="spacingAndGlyphs" text-anchor="end">0.2</text>
<text x="50.6" y="415.7" font-size="10.9" textLength="18.0" lengthAdjust="spacingAndGlyphs" text-anchor="end">0.0</text>
<text x="376.9" y="252.1" font-size="10.9" textLength="27.0" lengthAdjust="spacingAndGlyphs" text-anchor="end">−0.5</text>
<text x="376.9" y="283.18" font-size="10.9" textLength="27.0" lengthAdjust="spacingAndGlyphs" text-anchor="end">−1.0</text>
<text x="376.9" y="317.36" font-size="10.9" textLength="27.0" lengthAdjust="spacingAndGlyphs" text-anchor="end">−1.5</text>
<text x="376.9" y="351.54" font-size="10.9" textLength="27.0" lengthAdjust="spacingAndGlyphs" text-anchor="end">−2.0</text>
<text x="376.9" y="385.72" font-size="10.9" textLength="27.0" lengthAdjust="spacingAndGlyphs" text-anchor="end">−2.5</text>
<text x="376.9" y="415.7" font-size="10.9" textLength="27.0" lengthAdjust="spacingAndGlyphs" text-anchor="end">−3.0</text>
</g>
</svg>
</body></html>
